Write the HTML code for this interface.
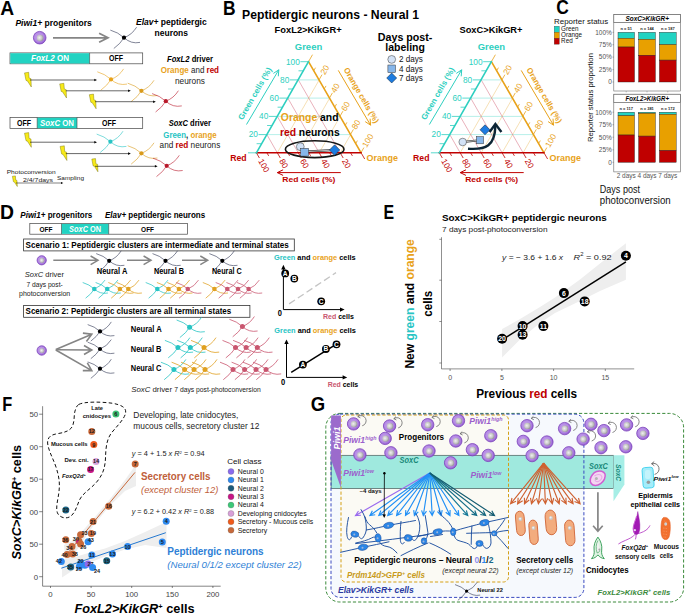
<!DOCTYPE html><html><head><meta charset="utf-8"><title>Figure</title><style>html,body{margin:0;padding:0;background:#fff}svg{display:block}text{font-family:"Liberation Sans",sans-serif}</style></head><body>
<svg width="685" height="614" viewBox="0 0 685 614">
<defs><radialGradient id="pg" cx="45%" cy="45%" r="60%"><stop offset="0" stop-color="#caa8ee"/><stop offset="0.6" stop-color="#b48ae4"/><stop offset="1" stop-color="#8a50c8"/></radialGradient><radialGradient id="ng" cx="40%" cy="45%" r="65%"><stop offset="0" stop-color="#f0f0f0"/><stop offset="0.6" stop-color="#c4c4c4"/><stop offset="1" stop-color="#8c8c8c"/></radialGradient></defs>
<rect width="685" height="614" fill="#fff"/>
<g id="panelA">
<text x="0.2" y="14.5" font-size="20.4" fill="#000" font-weight="bold" textLength="13.9" lengthAdjust="spacingAndGlyphs" >A</text>
<text x="15.4" y="25.6" font-size="8.6" fill="#000" font-weight="bold" textLength="76.4" lengthAdjust="spacingAndGlyphs" ><tspan font-style="italic">Piwi1+</tspan> progenitors</text>
<text x="136.0" y="24.8" font-size="8.6" fill="#000" font-weight="bold" textLength="70.7" lengthAdjust="spacingAndGlyphs" ><tspan font-style="italic">Elav+</tspan> peptidergic</text>
<text x="154.6" y="36.0" font-size="8.6" fill="#000" font-weight="bold" textLength="33.4" lengthAdjust="spacingAndGlyphs" >neurons</text>
<circle cx="39.7" cy="37.7" r="6.3" fill="url(#pg)" stroke="#7d45bd" stroke-width="0.8"/>
<circle cx="40.1" cy="38.0" r="3.3" fill="url(#ng)"/>
<path d="M53.0 37.8L108.0 37.8M99.1 42.3L108.0 37.8L99.1 33.3" fill="none" stroke="#858585" stroke-width="1.75" stroke-linejoin="miter"/>
<path d="M124.0 37.7Q118.0 32.2 110.3 30.1M124.0 37.7Q132.0 34.7 136.6 27.2M124.0 37.7Q120.5 43.7 113.8 48.5M124.0 37.7Q131.0 44.2 140.0 42.4" fill="none" stroke="#2b3350" stroke-width="0.6"/>
<circle cx="124.0" cy="37.7" r="2.1" fill="#000"/>
<rect x="10" y="52.9" width="132.7" height="10.9" fill="#fff" stroke="#444" stroke-width="0.7"/>
<rect x="10.3" y="53.2" width="79.3" height="10.3" fill="#22d3c2"/>
<line x1="89.6" y1="52.9" x2="89.6" y2="63.8" stroke="#444" stroke-width="0.6"/>
<text x="50.0" y="61.2" font-size="8.6" fill="#fff" font-weight="bold" text-anchor="middle" textLength="38.0" lengthAdjust="spacingAndGlyphs" ><tspan font-style="italic">FoxL2</tspan> ON</text>
<text x="116.0" y="61.2" font-size="8.6" fill="#000" font-weight="bold" text-anchor="middle" textLength="14.0" lengthAdjust="spacingAndGlyphs" >OFF</text>
<polygon points="24.5,72.9 28.7,72.3 29.1,78.0 31.0,78.7 31.3,87.0 27.4,80.9 26.0,80.4" fill="#f7ea1a" stroke="#6b6500" stroke-width="0.4"/>
<line x1="30.0" y1="80.0" x2="95.2" y2="80.0" stroke="#000" stroke-width="0.6"/>
<polygon points="97.0,80.0 94.3,81.3 94.3,78.7" fill="#000"/>
<path d="M111.0 79.4Q105.0 73.9 97.3 71.8M111.0 79.4Q119.0 76.4 123.6 68.9M111.0 79.4Q107.5 85.4 100.8 90.2M111.0 79.4Q118.0 85.9 127.0 84.1" fill="none" stroke="#e8a21a" stroke-width="0.6"/>
<circle cx="111.0" cy="79.4" r="2.1" fill="#e8a21a"/>
<polygon points="59.7,83.9 63.9,83.3 64.3,89.0 66.2,89.7 66.5,98.0 62.6,91.9 61.2,91.4" fill="#f7ea1a" stroke="#6b6500" stroke-width="0.4"/>
<line x1="65.8" y1="90.8" x2="129.0" y2="90.8" stroke="#000" stroke-width="0.6"/>
<polygon points="130.8,90.8 128.1,92.1 128.1,89.5" fill="#000"/>
<path d="M141.4 90.8Q135.4 85.3 127.7 83.2M141.4 90.8Q149.4 87.8 154.0 80.3M141.4 90.8Q137.9 96.8 131.2 101.6M141.4 90.8Q148.4 97.3 157.4 95.5" fill="none" stroke="#d99a1a" stroke-width="0.6"/>
<circle cx="141.4" cy="90.8" r="2.1" fill="#d99a1a"/>
<polygon points="89.3,94.7 93.5,94.1 93.9,99.8 95.8,100.5 96.1,108.8 92.2,102.7 90.8,102.2" fill="#f7ea1a" stroke="#6b6500" stroke-width="0.4"/>
<line x1="95.0" y1="101.7" x2="154.0" y2="101.7" stroke="#000" stroke-width="0.6"/>
<polygon points="155.8,101.7 153.1,103.0 153.1,100.4" fill="#000"/>
<path d="M165.8 101.2Q159.8 95.7 152.1 93.6M165.8 101.2Q173.8 98.2 178.4 90.7M165.8 101.2Q162.3 107.2 155.6 112.0M165.8 101.2Q172.8 107.7 181.8 105.9" fill="none" stroke="#b8182a" stroke-width="0.6"/>
<circle cx="165.8" cy="101.2" r="2.1" fill="#b8182a"/>
<text x="167.0" y="61.5" font-size="8.6" fill="#000" font-weight="bold" textLength="46.0" lengthAdjust="spacingAndGlyphs" ><tspan font-style="italic">FoxL2</tspan> driver</text>
<text x="160.8" y="73.2" font-size="8.6" fill="#000" font-weight="bold" textLength="58.2" lengthAdjust="spacingAndGlyphs" ><tspan fill="#e8a21a">Orange</tspan><tspan font-weight="normal" fill="#222"> and </tspan><tspan fill="#c00000">red</tspan></text>
<text x="175.0" y="83.6" font-size="8.6" fill="#222" textLength="30.0" lengthAdjust="spacingAndGlyphs" >neurons</text>
<rect x="10" y="117.4" width="132.7" height="11.1" fill="#fff" stroke="#444" stroke-width="0.7"/>
<rect x="37.2" y="117.7" width="39.8" height="10.5" fill="#22d3c2"/>
<path d="M37.2 117.4V128.5M77 117.4V128.5" stroke="#444" stroke-width="0.6"/>
<text x="24.0" y="125.9" font-size="8.6" fill="#000" font-weight="bold" text-anchor="middle" textLength="14.0" lengthAdjust="spacingAndGlyphs" >OFF</text>
<text x="57.0" y="125.9" font-size="8.6" fill="#fff" font-weight="bold" text-anchor="middle" textLength="34.0" lengthAdjust="spacingAndGlyphs" ><tspan font-style="italic">SoxC</tspan> ON</text>
<text x="109.0" y="125.9" font-size="8.6" fill="#000" font-weight="bold" text-anchor="middle" textLength="14.0" lengthAdjust="spacingAndGlyphs" >OFF</text>
<polygon points="24.5,133.2 28.7,132.6 29.1,138.3 31.0,139.0 31.3,147.3 27.4,141.2 26.0,140.7" fill="#f7ea1a" stroke="#6b6500" stroke-width="0.4"/>
<line x1="30.0" y1="142.2" x2="95.2" y2="142.2" stroke="#000" stroke-width="0.6"/>
<polygon points="97.0,142.2 94.3,143.5 94.3,140.9" fill="#000"/>
<path d="M110.4 141.7Q104.4 136.2 96.7 134.1M110.4 141.7Q118.4 138.7 123.0 131.2M110.4 141.7Q106.9 147.7 100.2 152.5M110.4 141.7Q117.4 148.2 126.4 146.4" fill="none" stroke="#27c4c4" stroke-width="0.6"/>
<circle cx="110.4" cy="141.7" r="2.1" fill="#27c4c4"/>
<polygon points="60.1,146.4 64.3,145.8 64.7,151.5 66.6,152.2 66.9,160.5 63.0,154.4 61.6,153.9" fill="#f7ea1a" stroke="#6b6500" stroke-width="0.4"/>
<line x1="65.8" y1="153.6" x2="129.0" y2="153.6" stroke="#000" stroke-width="0.6"/>
<polygon points="130.8,153.6 128.1,154.9 128.1,152.3" fill="#000"/>
<path d="M141.4 153.3Q135.4 147.8 127.7 145.7M141.4 153.3Q149.4 150.3 154.0 142.8M141.4 153.3Q137.9 159.3 131.2 164.1M141.4 153.3Q148.4 159.8 157.4 158.0" fill="none" stroke="#d99a1a" stroke-width="0.6"/>
<circle cx="141.4" cy="153.3" r="2.1" fill="#d99a1a"/>
<polygon points="91.8,159.1 95.5,158.6 95.9,163.7 97.6,164.3 97.9,171.8 94.4,166.3 93.1,165.9" fill="#f7ea1a" stroke="#6b6500" stroke-width="0.4"/>
<line x1="95.0" y1="166.3" x2="155.8" y2="166.3" stroke="#000" stroke-width="0.6"/>
<polygon points="157.6,166.3 154.9,167.6 154.9,165.0" fill="#000"/>
<path d="M166.7 165.8Q160.7 160.3 153.0 158.2M166.7 165.8Q174.7 162.8 179.3 155.3M166.7 165.8Q163.2 171.8 156.5 176.6M166.7 165.8Q173.7 172.3 182.7 170.5" fill="none" stroke="#b8182a" stroke-width="0.6"/>
<circle cx="166.7" cy="165.8" r="2.1" fill="#b8182a"/>
<text x="168.7" y="126.3" font-size="8.6" fill="#000" font-weight="bold" textLength="42.3" lengthAdjust="spacingAndGlyphs" ><tspan font-style="italic">SoxC</tspan> driver</text>
<text x="163.3" y="137.7" font-size="8.6" fill="#000" font-weight="bold" textLength="53.3" lengthAdjust="spacingAndGlyphs" ><tspan fill="#27c4c4">Green</tspan><tspan fill="#222">, </tspan><tspan fill="#e8a21a">orange</tspan></text>
<text x="159.6" y="148.4" font-size="8.6" fill="#222" textLength="60.7" lengthAdjust="spacingAndGlyphs" >and <tspan fill="#c00000" font-weight="bold">red</tspan> neurons</text>
<text x="6.7" y="174.0" font-size="6.2" fill="#222" textLength="49.0" lengthAdjust="spacingAndGlyphs" >Photoconversion</text>
<text x="23.0" y="181.9" font-size="6.2" fill="#222" textLength="30.0" lengthAdjust="spacingAndGlyphs" >2/4/7days</text>
<text x="57.0" y="180.0" font-size="6.2" fill="#222" textLength="27.0" lengthAdjust="spacingAndGlyphs" >Sampling</text>
<polygon points="12.4,176.3 15.4,175.9 15.7,180.0 17.0,180.5 17.3,186.5 14.4,182.1 13.4,181.7" fill="#f7ea1a" stroke="#6b6500" stroke-width="0.4"/>
<line x1="16.0" y1="183.0" x2="61.8" y2="183.0" stroke="#000" stroke-width="0.5"/>
<polygon points="63.3,183.0 61.0,184.1 61.0,181.9" fill="#000"/>
</g>
<g id="panelB">
<text x="222.9" y="14.8" font-size="20.2" fill="#000" font-weight="bold" textLength="12.6" lengthAdjust="spacingAndGlyphs" >B</text>
<text x="242.0" y="18.6" font-size="12.2" fill="#000" font-weight="bold" textLength="177.0" lengthAdjust="spacingAndGlyphs" >Peptidergic neurons - Neural 1</text>
<text x="308.1" y="32.8" font-size="8.4" fill="#000" font-weight="bold" text-anchor="middle" textLength="67.0" lengthAdjust="spacingAndGlyphs" >FoxL2&gt;KikGR+</text>
<text x="308.5" y="49.6" font-size="8.6" fill="#2ecfc0" font-weight="bold" text-anchor="middle" textLength="27.4" lengthAdjust="spacingAndGlyphs" >Green</text>
<line x1="266.9" y1="134.6" x2="350.6" y2="134.6" stroke="#a5ebe3" stroke-width="0.8"/>
<line x1="277.3" y1="116.4" x2="340.2" y2="116.4" stroke="#a5ebe3" stroke-width="0.8"/>
<line x1="287.8" y1="98.1" x2="329.7" y2="98.1" stroke="#a5ebe3" stroke-width="0.8"/>
<line x1="298.3" y1="79.9" x2="319.2" y2="79.9" stroke="#a5ebe3" stroke-width="0.8"/>
<line x1="277.3" y1="152.8" x2="266.9" y2="134.6" stroke="#d77083" stroke-width="0.55"/>
<line x1="277.3" y1="152.8" x2="319.2" y2="79.9" stroke="#efc777" stroke-width="0.55"/>
<line x1="298.3" y1="152.8" x2="277.3" y2="116.4" stroke="#d77083" stroke-width="0.55"/>
<line x1="298.3" y1="152.8" x2="329.7" y2="98.1" stroke="#efc777" stroke-width="0.55"/>
<line x1="319.2" y1="152.8" x2="287.8" y2="98.1" stroke="#d77083" stroke-width="0.55"/>
<line x1="319.2" y1="152.8" x2="340.2" y2="116.4" stroke="#efc777" stroke-width="0.55"/>
<line x1="340.2" y1="152.8" x2="298.3" y2="79.9" stroke="#d77083" stroke-width="0.55"/>
<line x1="340.2" y1="152.8" x2="350.6" y2="134.6" stroke="#efc777" stroke-width="0.55"/>
<line x1="261.6" y1="143.7" x2="256.6" y2="143.7" stroke="#2ecfc0" stroke-width="0.8"/>
<line x1="313.7" y1="70.8" x2="315.5" y2="67.7" stroke="#e8a21a" stroke-width="0.8"/>
<line x1="350.6" y1="152.8" x2="352.4" y2="155.9" stroke="#c00000" stroke-width="0.8"/>
<line x1="266.9" y1="134.6" x2="258.5" y2="134.6" stroke="#2ecfc0" stroke-width="0.8"/>
<text x="257.9" y="137.4" font-size="8.3" fill="#2ecfc0" text-anchor="end" >20</text>
<line x1="319.0" y1="79.9" x2="322.0" y2="74.7" stroke="#e8a21a" stroke-width="0.8"/>
<text x="324.9" y="75.3" font-size="8.3" fill="#e8a21a" transform="rotate(-60 324.9 75.3)" >20</text>
<line x1="340.2" y1="152.8" x2="343.2" y2="158.0" stroke="#c00000" stroke-width="0.8"/>
<text x="341.7" y="161.1" font-size="8.3" fill="#c00000" transform="rotate(60 341.7 161.1)" >20</text>
<line x1="272.1" y1="125.5" x2="267.1" y2="125.5" stroke="#2ecfc0" stroke-width="0.8"/>
<line x1="324.2" y1="89.0" x2="326.0" y2="85.9" stroke="#e8a21a" stroke-width="0.8"/>
<line x1="329.7" y1="152.8" x2="331.5" y2="155.9" stroke="#c00000" stroke-width="0.8"/>
<line x1="277.3" y1="116.4" x2="268.9" y2="116.4" stroke="#2ecfc0" stroke-width="0.8"/>
<text x="268.3" y="119.2" font-size="8.3" fill="#2ecfc0" text-anchor="end" >40</text>
<line x1="329.4" y1="98.1" x2="332.4" y2="92.9" stroke="#e8a21a" stroke-width="0.8"/>
<text x="335.4" y="93.5" font-size="8.3" fill="#e8a21a" transform="rotate(-60 335.4 93.5)" >40</text>
<line x1="319.2" y1="152.8" x2="322.2" y2="158.0" stroke="#c00000" stroke-width="0.8"/>
<text x="320.8" y="161.1" font-size="8.3" fill="#c00000" transform="rotate(60 320.8 161.1)" >40</text>
<line x1="282.6" y1="107.2" x2="277.6" y2="107.2" stroke="#2ecfc0" stroke-width="0.8"/>
<line x1="334.7" y1="107.2" x2="336.5" y2="104.1" stroke="#e8a21a" stroke-width="0.8"/>
<line x1="308.8" y1="152.8" x2="310.6" y2="155.9" stroke="#c00000" stroke-width="0.8"/>
<line x1="287.8" y1="98.1" x2="279.4" y2="98.1" stroke="#2ecfc0" stroke-width="0.8"/>
<text x="278.8" y="100.9" font-size="8.3" fill="#2ecfc0" text-anchor="end" >60</text>
<line x1="339.9" y1="116.4" x2="342.9" y2="111.2" stroke="#e8a21a" stroke-width="0.8"/>
<text x="345.8" y="111.7" font-size="8.3" fill="#e8a21a" transform="rotate(-60 345.8 111.7)" >60</text>
<line x1="298.3" y1="152.8" x2="301.3" y2="158.0" stroke="#c00000" stroke-width="0.8"/>
<text x="299.8" y="161.1" font-size="8.3" fill="#c00000" transform="rotate(60 299.8 161.1)" >60</text>
<line x1="293.0" y1="89.0" x2="288.0" y2="89.0" stroke="#2ecfc0" stroke-width="0.8"/>
<line x1="345.1" y1="125.5" x2="346.9" y2="122.4" stroke="#e8a21a" stroke-width="0.8"/>
<line x1="287.8" y1="152.8" x2="289.6" y2="155.9" stroke="#c00000" stroke-width="0.8"/>
<line x1="298.3" y1="79.9" x2="289.9" y2="79.9" stroke="#2ecfc0" stroke-width="0.8"/>
<text x="289.3" y="82.7" font-size="8.3" fill="#2ecfc0" text-anchor="end" >80</text>
<line x1="350.4" y1="134.6" x2="353.4" y2="129.4" stroke="#e8a21a" stroke-width="0.8"/>
<text x="356.3" y="129.9" font-size="8.3" fill="#e8a21a" transform="rotate(-60 356.3 129.9)" >80</text>
<line x1="277.3" y1="152.8" x2="280.3" y2="158.0" stroke="#c00000" stroke-width="0.8"/>
<text x="278.9" y="161.1" font-size="8.3" fill="#c00000" transform="rotate(60 278.9 161.1)" >80</text>
<line x1="303.5" y1="70.8" x2="298.5" y2="70.8" stroke="#2ecfc0" stroke-width="0.8"/>
<line x1="355.6" y1="143.7" x2="357.4" y2="140.6" stroke="#e8a21a" stroke-width="0.8"/>
<line x1="266.9" y1="152.8" x2="268.7" y2="155.9" stroke="#c00000" stroke-width="0.8"/>
<line x1="308.8" y1="61.7" x2="300.4" y2="61.7" stroke="#2ecfc0" stroke-width="0.8"/>
<text x="299.8" y="64.5" font-size="8.3" fill="#2ecfc0" text-anchor="end" >100</text>
<line x1="360.9" y1="152.8" x2="363.9" y2="147.6" stroke="#e8a21a" stroke-width="0.8"/>
<text x="366.8" y="148.1" font-size="8.3" fill="#e8a21a" transform="rotate(-60 366.8 148.1)" >100</text>
<line x1="256.4" y1="152.8" x2="259.4" y2="158.0" stroke="#c00000" stroke-width="0.8"/>
<text x="258.0" y="161.1" font-size="8.3" fill="#c00000" transform="rotate(60 258.0 161.1)" >100</text>
<line x1="308.5" y1="61.7" x2="312.5" y2="54.7" stroke="#e8a21a" stroke-width="0.8"/>
<line x1="248.0" y1="152.8" x2="256.4" y2="152.8" stroke="#2ecfc0" stroke-width="0.8"/>
<line x1="361.1" y1="152.8" x2="364.7" y2="159.0" stroke="#c00000" stroke-width="0.8"/>
<line x1="308.5" y1="61.7" x2="361.1" y2="152.8" stroke="#e8a21a" stroke-width="1.6" stroke-linecap="round"/>
<line x1="256.4" y1="152.8" x2="361.1" y2="152.8" stroke="#c00000" stroke-width="1.6" stroke-linecap="round"/>
<line x1="256.4" y1="152.8" x2="308.5" y2="61.7" stroke="#2ecfc0" stroke-width="1.6" stroke-linecap="round"/>
<text x="230.2" y="160.5" font-size="8.4" fill="#c00000" font-weight="bold" textLength="16.4" lengthAdjust="spacingAndGlyphs" >Red</text>
<text x="366.6" y="160.5" font-size="8.4" fill="#e8a21a" font-weight="bold" textLength="31.4" lengthAdjust="spacingAndGlyphs" >Orange</text>
<path d="M246.5 124.5L278.8 69.8M278.3 76.3L278.8 69.8L273.4 73.4" fill="none" stroke="#2ecfc0" stroke-width="1" stroke-linejoin="miter"/>
<text x="242.5" y="120.5" font-size="8" fill="#2ecfc0" font-weight="bold" textLength="59.0" lengthAdjust="spacingAndGlyphs" transform="rotate(-60 242.5 120.5)" >Green cells (%)</text>
<path d="M338.3 70.4L370.6 125.2M365.2 121.6L370.6 125.2L370.1 118.7" fill="none" stroke="#e8a21a" stroke-width="1" stroke-linejoin="miter"/>
<text x="343.4" y="69.6" font-size="8" fill="#e8a21a" font-weight="bold" textLength="62.5" lengthAdjust="spacingAndGlyphs" transform="rotate(60 343.4 69.6)" >Orange cells (%)</text>
<path d="M340.8 172.6L277.3 172.6M283.1 169.8L277.3 172.6L283.1 175.4" fill="none" stroke="#c00000" stroke-width="1" stroke-linejoin="miter"/>
<text x="282.3" y="182.0" font-size="8" fill="#c00000" font-weight="bold" textLength="53.0" lengthAdjust="spacingAndGlyphs" >Red cells (%)</text>
<text x="491.0" y="32.8" font-size="8.4" fill="#000" font-weight="bold" text-anchor="middle" textLength="63.0" lengthAdjust="spacingAndGlyphs" >SoxC&gt;KikGR+</text>
<text x="491.4" y="49.6" font-size="8.6" fill="#2ecfc0" font-weight="bold" text-anchor="middle" textLength="27.4" lengthAdjust="spacingAndGlyphs" >Green</text>
<line x1="449.8" y1="134.6" x2="533.5" y2="134.6" stroke="#a5ebe3" stroke-width="0.8"/>
<line x1="460.2" y1="116.4" x2="523.1" y2="116.4" stroke="#a5ebe3" stroke-width="0.8"/>
<line x1="470.7" y1="98.1" x2="512.6" y2="98.1" stroke="#a5ebe3" stroke-width="0.8"/>
<line x1="481.2" y1="79.9" x2="502.1" y2="79.9" stroke="#a5ebe3" stroke-width="0.8"/>
<line x1="460.2" y1="152.8" x2="449.8" y2="134.6" stroke="#d77083" stroke-width="0.55"/>
<line x1="460.2" y1="152.8" x2="502.1" y2="79.9" stroke="#efc777" stroke-width="0.55"/>
<line x1="481.2" y1="152.8" x2="460.2" y2="116.4" stroke="#d77083" stroke-width="0.55"/>
<line x1="481.2" y1="152.8" x2="512.6" y2="98.1" stroke="#efc777" stroke-width="0.55"/>
<line x1="502.1" y1="152.8" x2="470.7" y2="98.1" stroke="#d77083" stroke-width="0.55"/>
<line x1="502.1" y1="152.8" x2="523.1" y2="116.4" stroke="#efc777" stroke-width="0.55"/>
<line x1="523.1" y1="152.8" x2="481.2" y2="79.9" stroke="#d77083" stroke-width="0.55"/>
<line x1="523.1" y1="152.8" x2="533.5" y2="134.6" stroke="#efc777" stroke-width="0.55"/>
<line x1="444.5" y1="143.7" x2="439.5" y2="143.7" stroke="#2ecfc0" stroke-width="0.8"/>
<line x1="496.6" y1="70.8" x2="498.4" y2="67.7" stroke="#e8a21a" stroke-width="0.8"/>
<line x1="533.5" y1="152.8" x2="535.3" y2="155.9" stroke="#c00000" stroke-width="0.8"/>
<line x1="449.8" y1="134.6" x2="441.4" y2="134.6" stroke="#2ecfc0" stroke-width="0.8"/>
<text x="440.8" y="137.4" font-size="8.3" fill="#2ecfc0" text-anchor="end" >20</text>
<line x1="501.9" y1="79.9" x2="504.9" y2="74.7" stroke="#e8a21a" stroke-width="0.8"/>
<text x="507.8" y="75.3" font-size="8.3" fill="#e8a21a" transform="rotate(-60 507.8 75.3)" >20</text>
<line x1="523.1" y1="152.8" x2="526.1" y2="158.0" stroke="#c00000" stroke-width="0.8"/>
<text x="524.6" y="161.1" font-size="8.3" fill="#c00000" transform="rotate(60 524.6 161.1)" >20</text>
<line x1="455.0" y1="125.5" x2="450.0" y2="125.5" stroke="#2ecfc0" stroke-width="0.8"/>
<line x1="507.1" y1="89.0" x2="508.9" y2="85.9" stroke="#e8a21a" stroke-width="0.8"/>
<line x1="512.6" y1="152.8" x2="514.4" y2="155.9" stroke="#c00000" stroke-width="0.8"/>
<line x1="460.2" y1="116.4" x2="451.8" y2="116.4" stroke="#2ecfc0" stroke-width="0.8"/>
<text x="451.2" y="119.2" font-size="8.3" fill="#2ecfc0" text-anchor="end" >40</text>
<line x1="512.3" y1="98.1" x2="515.3" y2="92.9" stroke="#e8a21a" stroke-width="0.8"/>
<text x="518.3" y="93.5" font-size="8.3" fill="#e8a21a" transform="rotate(-60 518.3 93.5)" >40</text>
<line x1="502.1" y1="152.8" x2="505.1" y2="158.0" stroke="#c00000" stroke-width="0.8"/>
<text x="503.7" y="161.1" font-size="8.3" fill="#c00000" transform="rotate(60 503.7 161.1)" >40</text>
<line x1="465.5" y1="107.2" x2="460.5" y2="107.2" stroke="#2ecfc0" stroke-width="0.8"/>
<line x1="517.6" y1="107.2" x2="519.4" y2="104.1" stroke="#e8a21a" stroke-width="0.8"/>
<line x1="491.6" y1="152.8" x2="493.4" y2="155.9" stroke="#c00000" stroke-width="0.8"/>
<line x1="470.7" y1="98.1" x2="462.3" y2="98.1" stroke="#2ecfc0" stroke-width="0.8"/>
<text x="461.7" y="100.9" font-size="8.3" fill="#2ecfc0" text-anchor="end" >60</text>
<line x1="522.8" y1="116.4" x2="525.8" y2="111.2" stroke="#e8a21a" stroke-width="0.8"/>
<text x="528.7" y="111.7" font-size="8.3" fill="#e8a21a" transform="rotate(-60 528.7 111.7)" >60</text>
<line x1="481.2" y1="152.8" x2="484.2" y2="158.0" stroke="#c00000" stroke-width="0.8"/>
<text x="482.7" y="161.1" font-size="8.3" fill="#c00000" transform="rotate(60 482.7 161.1)" >60</text>
<line x1="475.9" y1="89.0" x2="470.9" y2="89.0" stroke="#2ecfc0" stroke-width="0.8"/>
<line x1="528.0" y1="125.5" x2="529.8" y2="122.4" stroke="#e8a21a" stroke-width="0.8"/>
<line x1="470.7" y1="152.8" x2="472.5" y2="155.9" stroke="#c00000" stroke-width="0.8"/>
<line x1="481.2" y1="79.9" x2="472.8" y2="79.9" stroke="#2ecfc0" stroke-width="0.8"/>
<text x="472.2" y="82.7" font-size="8.3" fill="#2ecfc0" text-anchor="end" >80</text>
<line x1="533.3" y1="134.6" x2="536.3" y2="129.4" stroke="#e8a21a" stroke-width="0.8"/>
<text x="539.2" y="129.9" font-size="8.3" fill="#e8a21a" transform="rotate(-60 539.2 129.9)" >80</text>
<line x1="460.2" y1="152.8" x2="463.2" y2="158.0" stroke="#c00000" stroke-width="0.8"/>
<text x="461.8" y="161.1" font-size="8.3" fill="#c00000" transform="rotate(60 461.8 161.1)" >80</text>
<line x1="486.4" y1="70.8" x2="481.4" y2="70.8" stroke="#2ecfc0" stroke-width="0.8"/>
<line x1="538.5" y1="143.7" x2="540.3" y2="140.6" stroke="#e8a21a" stroke-width="0.8"/>
<line x1="449.8" y1="152.8" x2="451.6" y2="155.9" stroke="#c00000" stroke-width="0.8"/>
<line x1="491.6" y1="61.7" x2="483.2" y2="61.7" stroke="#2ecfc0" stroke-width="0.8"/>
<text x="482.6" y="64.5" font-size="8.3" fill="#2ecfc0" text-anchor="end" >100</text>
<line x1="543.8" y1="152.8" x2="546.8" y2="147.6" stroke="#e8a21a" stroke-width="0.8"/>
<text x="549.7" y="148.1" font-size="8.3" fill="#e8a21a" transform="rotate(-60 549.7 148.1)" >100</text>
<line x1="439.3" y1="152.8" x2="442.3" y2="158.0" stroke="#c00000" stroke-width="0.8"/>
<text x="440.9" y="161.1" font-size="8.3" fill="#c00000" transform="rotate(60 440.9 161.1)" >100</text>
<line x1="491.4" y1="61.7" x2="495.4" y2="54.7" stroke="#e8a21a" stroke-width="0.8"/>
<line x1="430.9" y1="152.8" x2="439.3" y2="152.8" stroke="#2ecfc0" stroke-width="0.8"/>
<line x1="544.0" y1="152.8" x2="547.6" y2="159.0" stroke="#c00000" stroke-width="0.8"/>
<line x1="491.4" y1="61.7" x2="544.0" y2="152.8" stroke="#e8a21a" stroke-width="1.6" stroke-linecap="round"/>
<line x1="439.3" y1="152.8" x2="544.0" y2="152.8" stroke="#c00000" stroke-width="1.6" stroke-linecap="round"/>
<line x1="439.3" y1="152.8" x2="491.4" y2="61.7" stroke="#2ecfc0" stroke-width="1.6" stroke-linecap="round"/>
<text x="413.1" y="160.5" font-size="8.4" fill="#c00000" font-weight="bold" textLength="16.4" lengthAdjust="spacingAndGlyphs" >Red</text>
<text x="549.5" y="160.5" font-size="8.4" fill="#e8a21a" font-weight="bold" textLength="31.4" lengthAdjust="spacingAndGlyphs" >Orange</text>
<path d="M429.4 124.5L461.7 69.8M461.2 76.3L461.7 69.8L456.3 73.4" fill="none" stroke="#2ecfc0" stroke-width="1" stroke-linejoin="miter"/>
<text x="425.4" y="120.5" font-size="8" fill="#2ecfc0" font-weight="bold" textLength="59.0" lengthAdjust="spacingAndGlyphs" transform="rotate(-60 425.4 120.5)" >Green cells (%)</text>
<path d="M521.2 70.4L553.5 125.2M548.1 121.6L553.5 125.2L553.0 118.7" fill="none" stroke="#e8a21a" stroke-width="1" stroke-linejoin="miter"/>
<text x="526.3" y="69.6" font-size="8" fill="#e8a21a" font-weight="bold" textLength="62.5" lengthAdjust="spacingAndGlyphs" transform="rotate(60 526.3 69.6)" >Orange cells (%)</text>
<path d="M523.7 172.6L460.2 172.6M466.0 169.8L460.2 172.6L466.0 175.4" fill="none" stroke="#c00000" stroke-width="1" stroke-linejoin="miter"/>
<text x="465.2" y="182.0" font-size="8" fill="#c00000" font-weight="bold" textLength="53.0" lengthAdjust="spacingAndGlyphs" >Red cells (%)</text>
<text x="280.8" y="121.4" font-size="10.4" fill="#000" font-weight="bold" textLength="57.8" lengthAdjust="spacingAndGlyphs" ><tspan fill="#e8a21a">Orange</tspan> and</text>
<text x="279.9" y="136.4" font-size="10.4" fill="#000" font-weight="bold" textLength="59.8" lengthAdjust="spacingAndGlyphs" ><tspan fill="#c00000">red</tspan> neurons</text>
<ellipse cx="314.7" cy="149.2" rx="29.3" ry="8.4" fill="none" stroke="#151515" stroke-width="1.6"/>
<line x1="304.9" y1="151.6" x2="334.7" y2="150" stroke="#222" stroke-width="2.2"/><line x1="304.9" y1="151.6" x2="334.7" y2="150" stroke="#bbb" stroke-width="1.1"/>
<circle cx="300.3" cy="146.7" r="3.9" fill="#d3e2f6" stroke="#333" stroke-width="0.5"/>
<rect x="300.7" y="148.3" width="7.8" height="7.8" fill="#86b6ea" stroke="#333" stroke-width="0.5"/>
<polygon points="334.6,144.8 339.8,150 334.6,155.2 329.4,150" fill="#1c7be0" stroke="#123" stroke-width="0.5"/>
<line x1="462.7" y1="142" x2="480" y2="140.2" stroke="#333" stroke-width="2"/><line x1="462.7" y1="142" x2="480" y2="140.2" stroke="#bbb" stroke-width="1"/>
<circle cx="462.7" cy="142" r="3.8" fill="#d3e2f6" stroke="#333" stroke-width="0.5"/>
<rect x="476.4" y="136.6" width="7.2" height="7.2" fill="#86b6ea" stroke="#333" stroke-width="0.5"/>
<polygon points="485,124.8 490,129.8 485,134.8 480,129.8" fill="#1c7be0" stroke="#123" stroke-width="0.5"/>
<path d="M468 148.7C486 150 495 146 495.4 125.5" fill="none" stroke="#0d2535" stroke-width="2.4"/>
<path d="M489.6 132L495.4 124L501.4 132" fill="none" stroke="#0d2535" stroke-width="2.4"/>
<text x="405.1" y="40.7" font-size="10" fill="#000" font-weight="bold" text-anchor="middle" textLength="54.6" lengthAdjust="spacingAndGlyphs" >Days post-</text>
<text x="405.1" y="51.2" font-size="10" fill="#000" font-weight="bold" text-anchor="middle" textLength="39.7" lengthAdjust="spacingAndGlyphs" >labeling</text>
<circle cx="391.7" cy="59.4" r="3.9" fill="#d3e2f6" stroke="#333" stroke-width="0.5"/>
<rect x="387.9" y="65" width="7.6" height="7.6" fill="#86b6ea" stroke="#333" stroke-width="0.5"/>
<polygon points="391.7,73 396.7,78 391.7,83 386.7,78" fill="#1c7be0" stroke="#123" stroke-width="0.5"/>
<text x="399.0" y="62.2" font-size="8.2" fill="#111" textLength="23.9" lengthAdjust="spacingAndGlyphs" >2 days</text>
<text x="399.0" y="71.5" font-size="8.2" fill="#111" textLength="23.9" lengthAdjust="spacingAndGlyphs" >4 days</text>
<text x="399.0" y="80.8" font-size="8.2" fill="#111" textLength="23.9" lengthAdjust="spacingAndGlyphs" >7 days</text>
</g>
<g id="panelC">
<text x="556.2" y="14.2" font-size="20.2" fill="#000" font-weight="bold" textLength="12.6" lengthAdjust="spacingAndGlyphs" >C</text>
<text x="554.1" y="23.6" font-size="7.6" fill="#111" textLength="54.0" lengthAdjust="spacingAndGlyphs" >Reporter status</text>
<rect x="554.2" y="26.2" width="5.1" height="6" fill="#22d3c2" stroke="#333" stroke-width="0.3"/>
<text x="561.1" y="31.3" font-size="6.3" fill="#111" >Green</text>
<rect x="554.2" y="32.2" width="5.1" height="6" fill="#e8a000" stroke="#333" stroke-width="0.3"/>
<text x="561.1" y="37.2" font-size="6.3" fill="#111" >Orange</text>
<rect x="554.2" y="38.2" width="5.1" height="6" fill="#c00000" stroke="#333" stroke-width="0.3"/>
<text x="561.1" y="43.2" font-size="6.3" fill="#111" >Red</text>
<text x="593.4" y="97.6" font-size="8" fill="#111" text-anchor="middle" textLength="89.0" lengthAdjust="spacingAndGlyphs" transform="rotate(-90 593.4 97.6)" >Reporter status proportion</text>
<rect x="613.8" y="14.3" width="66.6" height="8.2" fill="#fff" stroke="#333" stroke-width="0.6"/>
<text x="647.2" y="20.9" font-size="6.4" fill="#000" font-weight="bold" font-style="italic" text-anchor="middle" textLength="43.5" lengthAdjust="spacingAndGlyphs" >SoxC&gt;KikGR+</text>
<rect x="613.8" y="22.5" width="66.6" height="68.5" fill="#fff" stroke="#666" stroke-width="0.6"/>
<text x="611.8" y="34.6" font-size="6.5" fill="#555" text-anchor="end" >100%</text>
<line x1="612.4" y1="32.3" x2="614" y2="32.3" stroke="#666" stroke-width="0.4"/>
<text x="611.8" y="47.0" font-size="6.5" fill="#555" text-anchor="end" >75%</text>
<line x1="612.4" y1="44.7" x2="614" y2="44.7" stroke="#666" stroke-width="0.4"/>
<text x="611.8" y="59.4" font-size="6.5" fill="#555" text-anchor="end" >50%</text>
<line x1="612.4" y1="57.1" x2="614" y2="57.1" stroke="#666" stroke-width="0.4"/>
<text x="611.8" y="71.9" font-size="6.5" fill="#555" text-anchor="end" >25%</text>
<line x1="612.4" y1="69.6" x2="614" y2="69.6" stroke="#666" stroke-width="0.4"/>
<text x="611.8" y="84.3" font-size="6.5" fill="#555" text-anchor="end" >0</text>
<line x1="612.4" y1="82.0" x2="614" y2="82.0" stroke="#666" stroke-width="0.4"/>
<rect x="618" y="32.3" width="16.5" height="5.9" fill="#22d3c2" stroke="#222" stroke-width="0.4"/>
<rect x="618" y="38.2" width="16.5" height="8.8" fill="#e8a000" stroke="#222" stroke-width="0.4"/>
<rect x="618" y="47.0" width="16.5" height="35.0" fill="#c00000" stroke="#222" stroke-width="0.4"/>
<text x="626.2" y="30.2" font-size="4" fill="#222" font-weight="bold" text-anchor="middle" >n = 51</text>
<line x1="626.2" y1="91.0" x2="626.2" y2="92.4" stroke="#666" stroke-width="0.4"/>
<rect x="638.6" y="32.3" width="16.8" height="6.9" fill="#22d3c2" stroke="#222" stroke-width="0.4"/>
<rect x="638.6" y="39.2" width="16.8" height="16.0" fill="#e8a000" stroke="#222" stroke-width="0.4"/>
<rect x="638.6" y="55.2" width="16.8" height="26.8" fill="#c00000" stroke="#222" stroke-width="0.4"/>
<text x="647.0" y="30.2" font-size="4" fill="#222" font-weight="bold" text-anchor="middle" >n = 144</text>
<line x1="647.0" y1="91.0" x2="647.0" y2="92.4" stroke="#666" stroke-width="0.4"/>
<rect x="659.4" y="32.3" width="16.8" height="12.3" fill="#22d3c2" stroke="#222" stroke-width="0.4"/>
<rect x="659.4" y="44.6" width="16.8" height="15.5" fill="#e8a000" stroke="#222" stroke-width="0.4"/>
<rect x="659.4" y="60.1" width="16.8" height="21.9" fill="#c00000" stroke="#222" stroke-width="0.4"/>
<text x="667.8" y="30.2" font-size="4" fill="#222" font-weight="bold" text-anchor="middle" >n = 187</text>
<line x1="667.8" y1="91.0" x2="667.8" y2="92.4" stroke="#666" stroke-width="0.4"/>
<rect x="613.8" y="94.2" width="66.6" height="8.2" fill="#fff" stroke="#333" stroke-width="0.6"/>
<text x="647.2" y="100.8" font-size="6.4" fill="#000" font-weight="bold" font-style="italic" text-anchor="middle" textLength="43.5" lengthAdjust="spacingAndGlyphs" >FoxL2&gt;KikGR+</text>
<rect x="613.8" y="102.4" width="66.6" height="69.5" fill="#fff" stroke="#666" stroke-width="0.6"/>
<text x="611.8" y="114.5" font-size="6.5" fill="#555" text-anchor="end" >100%</text>
<line x1="612.4" y1="112.2" x2="614" y2="112.2" stroke="#666" stroke-width="0.4"/>
<text x="611.8" y="127.0" font-size="6.5" fill="#555" text-anchor="end" >75%</text>
<line x1="612.4" y1="124.7" x2="614" y2="124.7" stroke="#666" stroke-width="0.4"/>
<text x="611.8" y="139.6" font-size="6.5" fill="#555" text-anchor="end" >50%</text>
<line x1="612.4" y1="137.2" x2="614" y2="137.2" stroke="#666" stroke-width="0.4"/>
<text x="611.8" y="152.1" font-size="6.5" fill="#555" text-anchor="end" >25%</text>
<line x1="612.4" y1="149.8" x2="614" y2="149.8" stroke="#666" stroke-width="0.4"/>
<text x="611.8" y="164.6" font-size="6.5" fill="#555" text-anchor="end" >0</text>
<line x1="612.4" y1="162.3" x2="614" y2="162.3" stroke="#666" stroke-width="0.4"/>
<rect x="618" y="112.2" width="16.5" height="3.5" fill="#22d3c2" stroke="#222" stroke-width="0.4"/>
<rect x="618" y="115.7" width="16.5" height="19.3" fill="#e8a000" stroke="#222" stroke-width="0.4"/>
<rect x="618" y="135.0" width="16.5" height="27.3" fill="#c00000" stroke="#222" stroke-width="0.4"/>
<text x="626.2" y="110.1" font-size="4" fill="#222" font-weight="bold" text-anchor="middle" >n = 117</text>
<line x1="626.2" y1="171.9" x2="626.2" y2="173.3" stroke="#666" stroke-width="0.4"/>
<rect x="638.6" y="112.2" width="16.8" height="1.0" fill="#22d3c2" stroke="#222" stroke-width="0.4"/>
<rect x="638.6" y="113.2" width="16.8" height="22.9" fill="#e8a000" stroke="#222" stroke-width="0.4"/>
<rect x="638.6" y="136.1" width="16.8" height="26.2" fill="#c00000" stroke="#222" stroke-width="0.4"/>
<text x="647.0" y="110.1" font-size="4" fill="#222" font-weight="bold" text-anchor="middle" >n = 381</text>
<line x1="647.0" y1="171.9" x2="647.0" y2="173.3" stroke="#666" stroke-width="0.4"/>
<rect x="659.4" y="112.2" width="16.8" height="2.0" fill="#22d3c2" stroke="#222" stroke-width="0.4"/>
<rect x="659.4" y="114.2" width="16.8" height="36.2" fill="#e8a000" stroke="#222" stroke-width="0.4"/>
<rect x="659.4" y="150.4" width="16.8" height="11.9" fill="#c00000" stroke="#222" stroke-width="0.4"/>
<text x="667.8" y="110.1" font-size="4" fill="#222" font-weight="bold" text-anchor="middle" >n = 172</text>
<line x1="667.8" y1="171.9" x2="667.8" y2="173.3" stroke="#666" stroke-width="0.4"/>
<text x="626.2" y="178.2" font-size="6.5" fill="#555" text-anchor="middle" textLength="19.0" lengthAdjust="spacingAndGlyphs" >2 days</text>
<text x="647.0" y="178.2" font-size="6.5" fill="#555" text-anchor="middle" textLength="19.0" lengthAdjust="spacingAndGlyphs" >4 days</text>
<text x="667.8" y="178.2" font-size="6.5" fill="#555" text-anchor="middle" textLength="19.0" lengthAdjust="spacingAndGlyphs" >7 days</text>
<text x="599.8" y="192.7" font-size="10.3" fill="#111" textLength="40.2" lengthAdjust="spacingAndGlyphs" >Days post</text>
<text x="599.8" y="204.1" font-size="10.3" fill="#111" textLength="70.9" lengthAdjust="spacingAndGlyphs" >photoconversion</text>
</g>
<g id="panelD">
<text x="0.0" y="218.9" font-size="20.2" fill="#000" font-weight="bold" textLength="14.0" lengthAdjust="spacingAndGlyphs" >D</text>
<text x="20.3" y="217.9" font-size="8.2" fill="#000" font-weight="bold" textLength="72.0" lengthAdjust="spacingAndGlyphs" ><tspan font-style="italic">Piwi1+</tspan> progenitors</text>
<text x="105.0" y="217.9" font-size="8.2" fill="#000" font-weight="bold" textLength="100.2" lengthAdjust="spacingAndGlyphs" ><tspan font-style="italic">Elav+</tspan> peptidergic neurons</text>
<rect x="29.8" y="223.6" width="157.6" height="10.6" fill="#fff" stroke="#444" stroke-width="0.7"/>
<rect x="61.5" y="223.9" width="47.2" height="10" fill="#22d3c2"/>
<path d="M61.5 223.6V234.2M108.7 223.6V234.2" stroke="#444" stroke-width="0.6"/>
<text x="46.0" y="231.6" font-size="8" fill="#000" font-weight="bold" text-anchor="middle" textLength="13.0" lengthAdjust="spacingAndGlyphs" >OFF</text>
<text x="85.1" y="231.6" font-size="8.2" fill="#fff" font-weight="bold" text-anchor="middle" textLength="32.0" lengthAdjust="spacingAndGlyphs" ><tspan font-style="italic">SoxC</tspan> ON</text>
<text x="147.6" y="231.6" font-size="8" fill="#000" font-weight="bold" text-anchor="middle" textLength="13.0" lengthAdjust="spacingAndGlyphs" >OFF</text>
<rect x="23.6" y="239" width="270.7" height="11.9" fill="#fff" stroke="#333" stroke-width="0.8"/>
<text x="25.6" y="247.7" font-size="8.7" fill="#000" font-weight="bold" textLength="263.2" lengthAdjust="spacingAndGlyphs" >Scenario 1: Peptidergic clusters are intermediate and terminal states</text>
<circle cx="41.7" cy="260.3" r="4.6" fill="url(#pg)" stroke="#7d45bd" stroke-width="0.8"/>
<circle cx="42.0" cy="260.5" r="2.4" fill="url(#ng)"/>
<path d="M53.3 260.3L98.0 260.3M90.6 264.6L98.0 260.3L90.6 256.0" fill="none" stroke="#858585" stroke-width="1.5" stroke-linejoin="miter"/>
<path d="M109.2 260.8Q103.5 255.6 96.2 253.6M109.2 260.8Q116.8 257.9 121.2 250.8M109.2 260.8Q105.9 266.5 99.5 271.1M109.2 260.8Q115.9 267.0 124.4 265.3" fill="none" stroke="#2b3350" stroke-width="0.6"/>
<circle cx="109.2" cy="260.8" r="2.1" fill="#000"/>
<path d="M127.0 260.3L151.0 260.3M143.6 264.6L151.0 260.3L143.6 256.0" fill="none" stroke="#858585" stroke-width="1.5" stroke-linejoin="miter"/>
<path d="M165.5 260.8Q159.8 255.6 152.5 253.6M165.5 260.8Q173.1 257.9 177.5 250.8M165.5 260.8Q162.2 266.5 155.8 271.1M165.5 260.8Q172.2 267.0 180.7 265.3" fill="none" stroke="#2b3350" stroke-width="0.6"/>
<circle cx="165.5" cy="260.8" r="2.1" fill="#000"/>
<path d="M182.0 260.3L207.7 260.3M200.3 264.6L207.7 260.3L200.3 256.0" fill="none" stroke="#858585" stroke-width="1.5" stroke-linejoin="miter"/>
<path d="M222.3 260.8Q216.6 255.6 209.3 253.6M222.3 260.8Q229.9 257.9 234.3 250.8M222.3 260.8Q219.0 266.5 212.6 271.1M222.3 260.8Q229.0 267.0 237.5 265.3" fill="none" stroke="#2b3350" stroke-width="0.6"/>
<circle cx="222.3" cy="260.8" r="2.1" fill="#000"/>
<text x="96.8" y="274.4" font-size="8.2" fill="#000" font-weight="bold" textLength="30.5" lengthAdjust="spacingAndGlyphs" >Neural A</text>
<text x="154.0" y="274.4" font-size="8.2" fill="#000" font-weight="bold" textLength="30.0" lengthAdjust="spacingAndGlyphs" >Neural B</text>
<text x="211.9" y="274.4" font-size="8.2" fill="#000" font-weight="bold" textLength="29.8" lengthAdjust="spacingAndGlyphs" >Neural C</text>
<text x="44.4" y="277.0" font-size="7.2" fill="#222" text-anchor="middle" textLength="39.2" lengthAdjust="spacingAndGlyphs" ><tspan font-style="italic">SoxC</tspan> driver</text>
<text x="44.6" y="286.8" font-size="6.8" fill="#222" text-anchor="middle" textLength="36.3" lengthAdjust="spacingAndGlyphs" >7 days post-</text>
<text x="44.6" y="296.3" font-size="6.8" fill="#222" text-anchor="middle" textLength="51.2" lengthAdjust="spacingAndGlyphs" >photoconversion</text>
<path d="M94.3 289.0Q89.2 284.3 82.7 282.5M94.3 289.0Q101.1 286.4 105.0 280.1M94.3 289.0Q91.3 294.1 85.6 298.2M94.3 289.0Q100.2 294.5 107.9 293.0" fill="none" stroke="#27c4c4" stroke-width="0.75"/>
<circle cx="94.3" cy="289.0" r="2.3" fill="#27c4c4"/>
<path d="M107.2 289.0Q102.1 284.3 95.6 282.5M107.2 289.0Q114.0 286.4 117.9 280.1M107.2 289.0Q104.2 294.1 98.5 298.2M107.2 289.0Q113.2 294.5 120.8 293.0" fill="none" stroke="#27c4c4" stroke-width="0.75"/>
<circle cx="107.2" cy="289.0" r="2.3" fill="#27c4c4"/>
<path d="M119.9 289.0Q114.8 284.3 108.3 282.5M119.9 289.0Q126.7 286.4 130.6 280.1M119.9 289.0Q116.9 294.1 111.2 298.2M119.9 289.0Q125.9 294.5 133.5 293.0" fill="none" stroke="#e0a020" stroke-width="0.75"/>
<circle cx="119.9" cy="289.0" r="2.3" fill="#e0a020"/>
<path d="M128.3 289.0Q123.2 284.3 116.7 282.5M128.3 289.0Q135.1 286.4 139.0 280.1M128.3 289.0Q125.3 294.1 119.6 298.2M128.3 289.0Q134.2 294.5 141.9 293.0" fill="none" stroke="#e0a020" stroke-width="0.75"/>
<circle cx="128.3" cy="289.0" r="2.3" fill="#e0a020"/>
<path d="M157.3 289.0Q152.2 284.3 145.7 282.5M157.3 289.0Q164.1 286.4 168.0 280.1M157.3 289.0Q154.3 294.1 148.6 298.2M157.3 289.0Q163.2 294.5 170.9 293.0" fill="none" stroke="#27c4c4" stroke-width="0.75"/>
<circle cx="157.3" cy="289.0" r="2.3" fill="#27c4c4"/>
<path d="M168.5 289.0Q163.4 284.3 156.9 282.5M168.5 289.0Q175.3 286.4 179.2 280.1M168.5 289.0Q165.5 294.1 159.8 298.2M168.5 289.0Q174.4 294.5 182.1 293.0" fill="none" stroke="#e0a020" stroke-width="0.75"/>
<circle cx="168.5" cy="289.0" r="2.3" fill="#e0a020"/>
<path d="M178.9 289.0Q173.8 284.3 167.3 282.5M178.9 289.0Q185.7 286.4 189.6 280.1M178.9 289.0Q175.9 294.1 170.2 298.2M178.9 289.0Q184.8 294.5 192.5 293.0" fill="none" stroke="#e0a020" stroke-width="0.75"/>
<circle cx="178.9" cy="289.0" r="2.3" fill="#e0a020"/>
<path d="M187.8 289.0Q182.7 284.3 176.2 282.5M187.8 289.0Q194.6 286.4 198.5 280.1M187.8 289.0Q184.8 294.1 179.1 298.2M187.8 289.0Q193.8 294.5 201.4 293.0" fill="none" stroke="#c9566f" stroke-width="0.75"/>
<circle cx="187.8" cy="289.0" r="2.3" fill="#c9566f"/>
<path d="M214.4 289.0Q209.3 284.3 202.8 282.5M214.4 289.0Q221.2 286.4 225.1 280.1M214.4 289.0Q211.4 294.1 205.7 298.2M214.4 289.0Q220.3 294.5 228.0 293.0" fill="none" stroke="#e0a020" stroke-width="0.75"/>
<circle cx="214.4" cy="289.0" r="2.3" fill="#e0a020"/>
<path d="M227.3 289.0Q222.2 284.3 215.7 282.5M227.3 289.0Q234.1 286.4 238.0 280.1M227.3 289.0Q224.3 294.1 218.6 298.2M227.3 289.0Q233.2 294.5 240.9 293.0" fill="none" stroke="#c9566f" stroke-width="0.75"/>
<circle cx="227.3" cy="289.0" r="2.3" fill="#c9566f"/>
<path d="M238.0 289.0Q232.9 284.3 226.4 282.5M238.0 289.0Q244.8 286.4 248.7 280.1M238.0 289.0Q235.0 294.1 229.3 298.2M238.0 289.0Q243.9 294.5 251.6 293.0" fill="none" stroke="#c9566f" stroke-width="0.75"/>
<circle cx="238.0" cy="289.0" r="2.3" fill="#c9566f"/>
<path d="M248.6 289.0Q243.5 284.3 237.0 282.5M248.6 289.0Q255.4 286.4 259.3 280.1M248.6 289.0Q245.6 294.1 239.9 298.2M248.6 289.0Q254.5 294.5 262.2 293.0" fill="none" stroke="#c9566f" stroke-width="0.75"/>
<circle cx="248.6" cy="289.0" r="2.3" fill="#c9566f"/>
<text x="274.0" y="260.0" font-size="8" fill="#000" font-weight="bold" textLength="81.6" lengthAdjust="spacingAndGlyphs" ><tspan fill="#27c4c4">Green</tspan> and <tspan fill="#e8a21a">orange</tspan> cells</text>
<path d="M283.4 268V309.6H341" fill="none" stroke="#000" stroke-width="1"/>
<polygon points="283.4,264.8 281.2,269.4 285.6,269.4" fill="#000"/><polygon points="344.6,309.6 340,307.4 340,311.8" fill="#000"/>
<line x1="289.1" y1="303.9" x2="336" y2="272.6" stroke="#c4c4c4" stroke-width="1.3" stroke-dasharray="7 3.5"/>
<circle cx="285.2" cy="273.4" r="3.9" fill="#000"/>
<text x="285.2" y="275.8" font-size="6.6" fill="#fff" font-weight="bold" text-anchor="middle" >A</text>
<circle cx="294.3" cy="278.6" r="3.9" fill="#000"/>
<text x="294.3" y="281.0" font-size="6.6" fill="#fff" font-weight="bold" text-anchor="middle" >B</text>
<circle cx="321.2" cy="301.3" r="3.9" fill="#000"/>
<text x="321.2" y="303.7" font-size="6.6" fill="#fff" font-weight="bold" text-anchor="middle" >C</text>
<text x="277.8" y="316.3" font-size="8.4" fill="#000" font-weight="bold" textLength="4.2" lengthAdjust="spacingAndGlyphs" >0</text>
<text x="323.0" y="319.0" font-size="8" fill="#000" font-weight="bold" textLength="30.8" lengthAdjust="spacingAndGlyphs" ><tspan fill="#c9566f">Red</tspan> cells</text>
<rect x="23.6" y="305.4" width="226.3" height="11.9" fill="#fff" stroke="#333" stroke-width="0.8"/>
<text x="25.6" y="314.2" font-size="8.7" fill="#000" font-weight="bold" textLength="205.6" lengthAdjust="spacingAndGlyphs" >Scenario 2: Peptidergic clusters are all terminal states</text>
<circle cx="41.7" cy="350.5" r="4.7" fill="url(#pg)" stroke="#7d45bd" stroke-width="0.8"/>
<circle cx="42.0" cy="350.7" r="2.4" fill="url(#ng)"/>
<path d="M55.8 349.6L91.8 334.2M86.4 341.4L91.8 334.2L82.9 333.1" fill="none" stroke="#858585" stroke-width="1.6" stroke-linejoin="miter"/>
<path d="M55.8 349.8L91.8 350.0M84.0 354.5L91.8 350.0L84.0 345.5" fill="none" stroke="#858585" stroke-width="1.6" stroke-linejoin="miter"/>
<path d="M55.8 350.0L91.8 370.6M82.8 370.6L91.8 370.6L87.3 362.8" fill="none" stroke="#858585" stroke-width="1.6" stroke-linejoin="miter"/>
<path d="M100.0 331.4Q94.6 326.4 87.7 324.6M100.0 331.4Q107.2 328.7 111.3 321.9M100.0 331.4Q96.8 336.8 90.8 341.1M100.0 331.4Q106.3 337.2 114.4 335.6" fill="none" stroke="#2b3350" stroke-width="0.6"/>
<circle cx="100.0" cy="331.4" r="2.1" fill="#000"/>
<path d="M100.0 349.0Q94.6 344.1 87.7 342.2M100.0 349.0Q107.2 346.3 111.3 339.6M100.0 349.0Q96.8 354.4 90.8 358.7M100.0 349.0Q106.3 354.9 114.4 353.2" fill="none" stroke="#2b3350" stroke-width="0.6"/>
<circle cx="100.0" cy="349.0" r="2.1" fill="#000"/>
<path d="M100.0 368.7Q94.6 363.8 87.7 361.9M100.0 368.7Q107.2 366.0 111.3 359.2M100.0 368.7Q96.8 374.1 90.8 378.4M100.0 368.7Q106.3 374.6 114.4 372.9" fill="none" stroke="#2b3350" stroke-width="0.6"/>
<circle cx="100.0" cy="368.7" r="2.1" fill="#000"/>
<text x="130.8" y="332.2" font-size="8.2" fill="#000" font-weight="bold" textLength="31.0" lengthAdjust="spacingAndGlyphs" >Neural A</text>
<text x="130.8" y="351.8" font-size="8.2" fill="#000" font-weight="bold" textLength="30.6" lengthAdjust="spacingAndGlyphs" >Neural B</text>
<text x="130.8" y="371.4" font-size="8.2" fill="#000" font-weight="bold" textLength="30.6" lengthAdjust="spacingAndGlyphs" >Neural C</text>
<path d="M189.6 327.2Q183.9 322.0 176.6 320.0M189.6 327.2Q197.2 324.3 201.6 317.2M189.6 327.2Q186.3 332.9 179.9 337.5M189.6 327.2Q196.2 333.4 204.8 331.7" fill="none" stroke="#27c4c4" stroke-width="0.8"/>
<circle cx="189.6" cy="327.2" r="2.5" fill="#27c4c4"/>
<path d="M242.4 326.5Q236.7 321.3 229.4 319.3M242.4 326.5Q250.0 323.6 254.4 316.5M242.4 326.5Q239.1 332.2 232.7 336.8M242.4 326.5Q249.1 332.7 257.6 331.0" fill="none" stroke="#c9566f" stroke-width="0.8"/>
<circle cx="242.4" cy="326.5" r="2.5" fill="#c9566f"/>
<path d="M177.9 347.6Q172.2 342.4 164.9 340.4M177.9 347.6Q185.5 344.8 189.9 337.6M177.9 347.6Q174.6 353.3 168.2 357.9M177.9 347.6Q184.6 353.8 193.1 352.1" fill="none" stroke="#27c4c4" stroke-width="0.8"/>
<circle cx="177.9" cy="347.6" r="2.5" fill="#27c4c4"/>
<path d="M190.3 347.6Q184.6 342.4 177.3 340.4M190.3 347.6Q197.9 344.8 202.3 337.6M190.3 347.6Q187.0 353.3 180.6 357.9M190.3 347.6Q197.0 353.8 205.5 352.1" fill="none" stroke="#27c4c4" stroke-width="0.8"/>
<circle cx="190.3" cy="347.6" r="2.5" fill="#27c4c4"/>
<path d="M204.0 347.6Q198.3 342.4 191.0 340.4M204.0 347.6Q211.6 344.8 216.0 337.6M204.0 347.6Q200.7 353.3 194.3 357.9M204.0 347.6Q210.7 353.8 219.2 352.1" fill="none" stroke="#e0a020" stroke-width="0.8"/>
<circle cx="204.0" cy="347.6" r="2.5" fill="#e0a020"/>
<path d="M235.5 347.6Q229.8 342.4 222.5 340.4M235.5 347.6Q243.1 344.8 247.5 337.6M235.5 347.6Q232.2 353.3 225.8 357.9M235.5 347.6Q242.2 353.8 250.7 352.1" fill="none" stroke="#c9566f" stroke-width="0.8"/>
<circle cx="235.5" cy="347.6" r="2.5" fill="#c9566f"/>
<path d="M246.1 347.6Q240.4 342.4 233.1 340.4M246.1 347.6Q253.7 344.8 258.1 337.6M246.1 347.6Q242.8 353.3 236.4 357.9M246.1 347.6Q252.8 353.8 261.3 352.1" fill="none" stroke="#c9566f" stroke-width="0.8"/>
<circle cx="246.1" cy="347.6" r="2.5" fill="#c9566f"/>
<path d="M257.3 347.6Q251.6 342.4 244.3 340.4M257.3 347.6Q264.9 344.8 269.3 337.6M257.3 347.6Q254.0 353.3 247.6 357.9M257.3 347.6Q263.9 353.8 272.5 352.1" fill="none" stroke="#c9566f" stroke-width="0.8"/>
<circle cx="257.3" cy="347.6" r="2.5" fill="#c9566f"/>
<path d="M173.9 369.4Q168.2 364.2 160.9 362.2M173.9 369.4Q181.5 366.5 185.9 359.4M173.9 369.4Q170.6 375.1 164.2 379.7M173.9 369.4Q180.6 375.6 189.1 373.9" fill="none" stroke="#27c4c4" stroke-width="0.8"/>
<circle cx="173.9" cy="369.4" r="2.5" fill="#27c4c4"/>
<path d="M184.6 369.4Q178.9 364.2 171.6 362.2M184.6 369.4Q192.2 366.5 196.6 359.4M184.6 369.4Q181.3 375.1 174.9 379.7M184.6 369.4Q191.2 375.6 199.8 373.9" fill="none" stroke="#e0a020" stroke-width="0.8"/>
<circle cx="184.6" cy="369.4" r="2.5" fill="#e0a020"/>
<path d="M194.0 369.4Q188.3 364.2 181.0 362.2M194.0 369.4Q201.6 366.5 206.0 359.4M194.0 369.4Q190.7 375.1 184.3 379.7M194.0 369.4Q200.7 375.6 209.2 373.9" fill="none" stroke="#e0a020" stroke-width="0.8"/>
<circle cx="194.0" cy="369.4" r="2.5" fill="#e0a020"/>
<path d="M205.0 369.4Q199.3 364.2 192.0 362.2M205.0 369.4Q212.6 366.5 217.0 359.4M205.0 369.4Q201.7 375.1 195.3 379.7M205.0 369.4Q211.7 375.6 220.2 373.9" fill="none" stroke="#e0a020" stroke-width="0.8"/>
<circle cx="205.0" cy="369.4" r="2.5" fill="#e0a020"/>
<path d="M233.0 369.4Q227.3 364.2 220.0 362.2M233.0 369.4Q240.6 366.5 245.0 359.4M233.0 369.4Q229.7 375.1 223.3 379.7M233.0 369.4Q239.7 375.6 248.2 373.9" fill="none" stroke="#c9566f" stroke-width="0.8"/>
<circle cx="233.0" cy="369.4" r="2.5" fill="#c9566f"/>
<path d="M244.6 369.4Q238.9 364.2 231.6 362.2M244.6 369.4Q252.2 366.5 256.6 359.4M244.6 369.4Q241.3 375.1 234.9 379.7M244.6 369.4Q251.2 375.6 259.8 373.9" fill="none" stroke="#c9566f" stroke-width="0.8"/>
<circle cx="244.6" cy="369.4" r="2.5" fill="#c9566f"/>
<path d="M256.0 369.4Q250.3 364.2 243.0 362.2M256.0 369.4Q263.6 366.5 268.0 359.4M256.0 369.4Q252.7 375.1 246.3 379.7M256.0 369.4Q262.6 375.6 271.2 373.9" fill="none" stroke="#c9566f" stroke-width="0.8"/>
<circle cx="256.0" cy="369.4" r="2.5" fill="#c9566f"/>
<path d="M266.0 369.4Q260.3 364.2 253.0 362.2M266.0 369.4Q273.6 366.5 278.0 359.4M266.0 369.4Q262.7 375.1 256.3 379.7M266.0 369.4Q272.6 375.6 281.2 373.9" fill="none" stroke="#c9566f" stroke-width="0.8"/>
<circle cx="266.0" cy="369.4" r="2.5" fill="#c9566f"/>
<text x="131.2" y="391.7" font-size="7.4" fill="#222" textLength="129.6" lengthAdjust="spacingAndGlyphs" ><tspan font-style="italic">SoxC</tspan> driver <tspan font-size="6.4">7 days post-photoconversion</tspan></text>
<text x="274.3" y="333.3" font-size="8" fill="#000" font-weight="bold" textLength="81.5" lengthAdjust="spacingAndGlyphs" ><tspan fill="#27c4c4">Green</tspan> and <tspan fill="#e8a21a">orange</tspan> cells</text>
<path d="M286.5 343V377.4H343" fill="none" stroke="#000" stroke-width="1"/>
<polygon points="286.5,339.4 284.3,344 288.7,344" fill="#000"/><polygon points="347.2,377.4 342.6,375.2 342.6,379.6" fill="#000"/>
<line x1="291.2" y1="372.4" x2="336" y2="344.3" stroke="#000" stroke-width="1.5"/>
<circle cx="302.9" cy="364.6" r="3.9" fill="#000"/>
<text x="302.9" y="367.0" font-size="6.6" fill="#fff" font-weight="bold" text-anchor="middle" >A</text>
<circle cx="325.9" cy="349" r="3.9" fill="#000"/>
<text x="325.9" y="351.4" font-size="6.6" fill="#fff" font-weight="bold" text-anchor="middle" >B</text>
<circle cx="336.5" cy="344.3" r="3.9" fill="#000"/>
<text x="336.5" y="346.7" font-size="6.6" fill="#fff" font-weight="bold" text-anchor="middle" >C</text>
<text x="280.9" y="385.4" font-size="8.4" fill="#000" font-weight="bold" textLength="4.2" lengthAdjust="spacingAndGlyphs" >0</text>
<text x="327.7" y="386.5" font-size="8" fill="#000" font-weight="bold" textLength="30.5" lengthAdjust="spacingAndGlyphs" ><tspan fill="#c9566f">Red</tspan> cells</text>
</g>
<g id="panelE">
<text x="383.6" y="218.9" font-size="20.2" fill="#000" font-weight="bold" textLength="10.6" lengthAdjust="spacingAndGlyphs" >E</text>
<text x="442.0" y="221.0" font-size="8.6" fill="#000" font-weight="bold" textLength="164.7" lengthAdjust="spacingAndGlyphs" >SoxC&gt;KikGR+ peptidergic neurons</text>
<text x="442.0" y="232.3" font-size="7.6" fill="#222" textLength="105.5" lengthAdjust="spacingAndGlyphs" >7 days post-photoconversion</text>
<polygon points="502.1,329.1 520,319 540,307 555,297.5 580,279.5 600,263.5 625.9,243.3 625.9,279.8 600,291 580,301 555,313 540,323 520,339.5 502.1,357.4" fill="#eeeeee"/>
<path d="M441.5 237.2V368.9H634.2" fill="none" stroke="#444" stroke-width="0.6"/>
<line x1="439.3" y1="239.3" x2="441.5" y2="239.3" stroke="#444" stroke-width="0.6"/>
<line x1="439.3" y1="280.2" x2="441.5" y2="280.2" stroke="#444" stroke-width="0.6"/>
<line x1="439.3" y1="321.5" x2="441.5" y2="321.5" stroke="#444" stroke-width="0.6"/>
<line x1="439.3" y1="363" x2="441.5" y2="363" stroke="#444" stroke-width="0.6"/>
<line x1="450.1" y1="368.9" x2="450.1" y2="371" stroke="#444" stroke-width="0.6"/>
<text x="450.1" y="379.8" font-size="7" fill="#555" text-anchor="middle" >0</text>
<line x1="501.9" y1="368.9" x2="501.9" y2="371" stroke="#444" stroke-width="0.6"/>
<text x="501.9" y="379.8" font-size="7" fill="#555" text-anchor="middle" >5</text>
<line x1="553.6" y1="368.9" x2="553.6" y2="371" stroke="#444" stroke-width="0.6"/>
<text x="553.6" y="379.8" font-size="7" fill="#555" text-anchor="middle" >10</text>
<line x1="605.3" y1="368.9" x2="605.3" y2="371" stroke="#444" stroke-width="0.6"/>
<text x="605.3" y="379.8" font-size="7" fill="#555" text-anchor="middle" >15</text>
<line x1="502.1" y1="339.9" x2="625.9" y2="261.8" stroke="#000" stroke-width="1.5"/>
<circle cx="625.9" cy="255.7" r="5" fill="#000"/>
<text x="625.9" y="258.2" font-size="6.9" fill="#fff" font-weight="bold" text-anchor="middle" >4</text>
<circle cx="563.9" cy="293.1" r="5" fill="#000"/>
<text x="563.9" y="295.6" font-size="6.9" fill="#fff" font-weight="bold" text-anchor="middle" >6</text>
<circle cx="584.7" cy="301.4" r="5" fill="#000"/>
<text x="584.7" y="303.9" font-size="6.9" fill="#fff" font-weight="bold" text-anchor="middle" >18</text>
<circle cx="522.6" cy="326.1" r="5" fill="#000"/>
<text x="522.6" y="328.6" font-size="6.9" fill="#fff" font-weight="bold" text-anchor="middle" >10</text>
<circle cx="543.4" cy="326.1" r="5" fill="#000"/>
<text x="543.4" y="328.6" font-size="6.9" fill="#fff" font-weight="bold" text-anchor="middle" >11</text>
<circle cx="522.6" cy="334.7" r="5" fill="#000"/>
<text x="522.6" y="337.2" font-size="6.9" fill="#fff" font-weight="bold" text-anchor="middle" >13</text>
<circle cx="502.1" cy="338.8" r="5" fill="#000"/>
<text x="502.1" y="341.3" font-size="6.9" fill="#fff" font-weight="bold" text-anchor="middle" >20</text>
<text x="502.1" y="259.6" font-size="8" fill="#222" textLength="61.0" lengthAdjust="spacingAndGlyphs" ><tspan font-style="italic">y</tspan> = − 3.6 + 1.6 <tspan font-style="italic">x</tspan></text>
<text x="573.6" y="259.6" font-size="8" fill="#222" textLength="38.0" lengthAdjust="spacingAndGlyphs" ><tspan font-style="italic">R</tspan><tspan font-size="5.2" dy="-3.4">2</tspan><tspan dy="3.4"> = 0.92</tspan></text>
<text x="414.5" y="368.6" font-size="12" fill="#000" font-weight="bold" textLength="129.4" lengthAdjust="spacingAndGlyphs" transform="rotate(-90 414.5 368.6)" >New <tspan fill="#27c4c4">green</tspan> and <tspan fill="#e8a21a">orange</tspan></text>
<text x="431.6" y="316.7" font-size="12" fill="#000" font-weight="bold" textLength="25.8" lengthAdjust="spacingAndGlyphs" transform="rotate(-90 431.6 316.7)" >cells</text>
<text x="476.2" y="397.6" font-size="12" fill="#000" font-weight="bold" textLength="100.8" lengthAdjust="spacingAndGlyphs" >Previous <tspan fill="#c00000">red</tspan> cells</text>
</g>
<g id="panelF">
<text x="2.2" y="410.9" font-size="20.2" fill="#000" font-weight="bold" textLength="10.0" lengthAdjust="spacingAndGlyphs" >F</text>
<polygon points="62,560 75,557 90,552.5 105,548.5 125,541 145,532 166.5,522 166.5,548 145,545 125,549.5 105,556.5 90,562.5 75,569 62,577.5" fill="#eeeeee"/>
<polygon points="64,545 72,541 82,531.5 95,517 110,499 125,480 136,464.5 136,486 125,491 110,505.5 95,523.5 85,538 75,553 66,566" fill="#eeeeee"/>
<path d="M42.6 406.2V586.2H220.7" fill="none" stroke="#333" stroke-width="0.6"/>
<line x1="39.2" y1="414.2" x2="42.6" y2="414.2" stroke="#333" stroke-width="0.6"/>
<text x="38.2" y="417.0" font-size="7.8" fill="#444" text-anchor="end" >50</text>
<line x1="39.2" y1="446.7" x2="42.6" y2="446.7" stroke="#333" stroke-width="0.6"/>
<text x="38.2" y="449.5" font-size="7.8" fill="#444" text-anchor="end" >00</text>
<line x1="39.2" y1="479.2" x2="42.6" y2="479.2" stroke="#333" stroke-width="0.6"/>
<text x="38.2" y="482.0" font-size="7.8" fill="#444" text-anchor="end" >50</text>
<line x1="39.2" y1="511.7" x2="42.6" y2="511.7" stroke="#333" stroke-width="0.6"/>
<text x="38.2" y="514.5" font-size="7.8" fill="#444" text-anchor="end" >00</text>
<line x1="39.2" y1="544.2" x2="42.6" y2="544.2" stroke="#333" stroke-width="0.6"/>
<text x="38.2" y="547.0" font-size="7.8" fill="#444" text-anchor="end" >50</text>
<line x1="39.2" y1="576.7" x2="42.6" y2="576.7" stroke="#333" stroke-width="0.6"/>
<text x="38.2" y="579.5" font-size="7.8" fill="#444" text-anchor="end" >0</text>
<line x1="50.5" y1="586.1" x2="50.5" y2="588" stroke="#333" stroke-width="0.6"/>
<text x="50.5" y="596.8" font-size="7.8" fill="#444" text-anchor="middle" >0</text>
<line x1="91.1" y1="586.1" x2="91.1" y2="588" stroke="#333" stroke-width="0.6"/>
<text x="91.1" y="596.8" font-size="7.8" fill="#444" text-anchor="middle" >50</text>
<line x1="131.7" y1="586.1" x2="131.7" y2="588" stroke="#333" stroke-width="0.6"/>
<text x="131.7" y="596.8" font-size="7.8" fill="#444" text-anchor="middle" >100</text>
<line x1="172.3" y1="586.1" x2="172.3" y2="588" stroke="#333" stroke-width="0.6"/>
<text x="172.3" y="596.8" font-size="7.8" fill="#444" text-anchor="middle" >150</text>
<line x1="212.9" y1="586.1" x2="212.9" y2="588" stroke="#333" stroke-width="0.6"/>
<text x="212.9" y="596.8" font-size="7.8" fill="#444" text-anchor="middle" >200</text>
<text x="21.5" y="559.6" font-size="12" fill="#000" font-weight="bold" textLength="114.6" lengthAdjust="spacingAndGlyphs" transform="rotate(-90 21.5 559.6)" ><tspan font-style="italic">SoxC&gt;KikGR</tspan><tspan font-size="7" dy="-4">+</tspan><tspan dy="4"> cells</tspan></text>
<text x="74.4" y="612.6" font-size="12" fill="#000" font-weight="bold" textLength="120.2" lengthAdjust="spacingAndGlyphs" ><tspan font-style="italic">FoxL2&gt;KikGR</tspan><tspan font-size="7" dy="-4">+</tspan><tspan dy="4"> cells</tspan></text>
<line x1="65" y1="556.5" x2="135" y2="472.4" stroke="#c8693a" stroke-width="1"/>
<line x1="61.3" y1="568.2" x2="165.8" y2="532.7" stroke="#2478d0" stroke-width="1"/>
<path d="M78.9 404.4C84 401.6 100 401.6 112 403.2C122 404.8 126.5 408 125.6 413C124.5 419 117 426 111 433.5C106 441 105.8 450 105.5 458C105 468 103 474 97.5 481C91 489 84 492 80 499C77 505 76 512 70.5 516.5C66 519 61 518 58 514C55 509 58 500 58.8 493C60 484 59.5 478 56 467C52.5 457 48.5 451 47.6 443C47.5 437 51 434.8 57 433.8C64 432.5 69 431.5 72 427C75 422 73.5 414 75.5 409.5C76.3 407 77.3 405.2 78.9 404.4Z" fill="none" stroke="#111" stroke-width="1" stroke-dasharray="3.6 2.4"/>
<circle cx="115.9" cy="414.1" r="3.5" fill="#3cbf74"/>
<text x="115.9" y="416.0" font-size="5.5" fill="#1a1a1a" font-weight="bold" text-anchor="middle" >6</text>
<circle cx="91.8" cy="431.5" r="3.5" fill="#c8693a"/>
<text x="91.8" y="433.4" font-size="5.5" fill="#1a1a1a" font-weight="bold" text-anchor="middle" >12</text>
<circle cx="93.8" cy="444.6" r="3.5" fill="#ee5a1c"/>
<text x="93.8" y="446.5" font-size="5.5" fill="#1a1a1a" font-weight="bold" text-anchor="middle" >9</text>
<circle cx="96" cy="461.5" r="3.5" fill="#d9a3dc"/>
<text x="96.0" y="463.4" font-size="5.5" fill="#1a1a1a" font-weight="bold" text-anchor="middle" >14</text>
<circle cx="90.6" cy="469.4" r="3.5" fill="#c71585"/>
<text x="90.6" y="471.3" font-size="5.5" fill="#1a1a1a" font-weight="bold" text-anchor="middle" >17</text>
<circle cx="135.2" cy="464.1" r="3.5" fill="#c8693a"/>
<text x="135.2" y="466.0" font-size="5.5" fill="#1a1a1a" font-weight="bold" text-anchor="middle" >7</text>
<circle cx="65.8" cy="509.9" r="3.5" fill="#1a6585"/>
<text x="65.8" y="511.8" font-size="5.5" fill="#1a1a1a" font-weight="bold" text-anchor="middle" >22</text>
<circle cx="108.7" cy="506.2" r="3.5" fill="#c8693a"/>
<text x="108.7" y="508.1" font-size="5.5" fill="#1a1a1a" font-weight="bold" text-anchor="middle" >16</text>
<circle cx="93.1" cy="521.6" r="3.5" fill="#c8693a"/>
<text x="93.1" y="523.5" font-size="5.5" fill="#1a1a1a" font-weight="bold" text-anchor="middle" >21</text>
<circle cx="80.6" cy="534.7" r="3.5" fill="#c8693a"/>
<text x="84.6" y="535.0" font-size="5.5" fill="#1a1a1a" font-weight="bold" text-anchor="middle" >23</text>
<circle cx="91.3" cy="533.5" r="3.5" fill="#c8693a"/>
<text x="92.9" y="535.4" font-size="5.5" fill="#1a1a1a" font-weight="bold" text-anchor="middle" >19</text>
<circle cx="65.8" cy="539.7" r="3.5" fill="#c8693a"/>
<text x="65.3" y="541.6" font-size="5.5" fill="#1a1a1a" font-weight="bold" text-anchor="middle" >36</text>
<circle cx="78.9" cy="540.9" r="3.5" fill="#c8693a"/>
<text x="75.9" y="541.4" font-size="5.5" fill="#1a1a1a" font-weight="bold" text-anchor="middle" >30</text>
<circle cx="77.8" cy="541.8" r="1.6" fill="#c71585"/>
<circle cx="88.1" cy="541.7" r="3.5" fill="#2e8af0"/>
<text x="90.7" y="541.6" font-size="5.5" fill="#1a1a1a" font-weight="bold" text-anchor="middle" >43</text>
<circle cx="80.6" cy="544.1" r="3.5" fill="#c8693a"/>
<text x="83.2" y="549.2" font-size="5.5" fill="#1a1a1a" font-weight="bold" text-anchor="middle" >26</text>
<circle cx="72" cy="546.6" r="3.5" fill="#c8693a"/>
<text x="69.4" y="549.5" font-size="5.5" fill="#1a1a1a" font-weight="bold" text-anchor="middle" >34</text>
<circle cx="67" cy="554.6" r="3.5" fill="#c8693a"/>
<text x="64.6" y="556.5" font-size="5.5" fill="#1a1a1a" font-weight="bold" text-anchor="middle" >40</text>
<circle cx="72.7" cy="554.1" r="3.5" fill="#c8693a"/>
<text x="74.7" y="555.8" font-size="5.5" fill="#1a1a1a" font-weight="bold" text-anchor="middle" >38</text>
<circle cx="91.8" cy="555" r="3.5" fill="#2e8af0"/>
<text x="91.8" y="556.9" font-size="5.5" fill="#1a1a1a" font-weight="bold" text-anchor="middle" >11</text>
<circle cx="112.4" cy="554.1" r="3.5" fill="#2e8af0"/>
<text x="112.4" y="556.0" font-size="5.5" fill="#1a1a1a" font-weight="bold" text-anchor="middle" >13</text>
<circle cx="106.7" cy="560.8" r="3.5" fill="#1a6585"/>
<text x="106.7" y="562.7" font-size="5.5" fill="#1a1a1a" font-weight="bold" text-anchor="middle" >15</text>
<circle cx="127.6" cy="546.6" r="3.5" fill="#2e8af0"/>
<text x="127.6" y="548.5" font-size="5.5" fill="#1a1a1a" font-weight="bold" text-anchor="middle" >10</text>
<circle cx="162.3" cy="542.1" r="3.5" fill="#2e8af0"/>
<text x="162.3" y="544.0" font-size="5.5" fill="#1a1a1a" font-weight="bold" text-anchor="middle" >5</text>
<circle cx="166.2" cy="521.3" r="3.5" fill="#2e8af0"/>
<text x="166.2" y="523.2" font-size="5.5" fill="#1a1a1a" font-weight="bold" text-anchor="middle" >4</text>
<circle cx="61.3" cy="561.5" r="3.5" fill="#2e8af0"/>
<text x="58.9" y="563.4" font-size="5.5" fill="#1a1a1a" font-weight="bold" text-anchor="middle" >42</text>
<circle cx="70.7" cy="567" r="3.5" fill="#1a6585"/>
<text x="70.1" y="568.9" font-size="5.5" fill="#1a1a1a" font-weight="bold" text-anchor="middle" >35</text>
<circle cx="79.4" cy="566.5" r="3.5" fill="#2e8af0"/>
<text x="78.9" y="571.4" font-size="5.5" fill="#1a1a1a" font-weight="bold" text-anchor="middle" >25</text>
<circle cx="80.6" cy="563.2" r="3.5" fill="#2e8af0"/>
<text x="80.6" y="563.1" font-size="5.5" fill="#1a1a1a" font-weight="bold" text-anchor="middle" >20</text>
<circle cx="84.9" cy="565.2" r="3.5" fill="#2e8af0"/>
<circle cx="88.1" cy="564" r="3.5" fill="#8a6aee"/>
<text x="90.5" y="565.5" font-size="5.5" fill="#1a1a1a" font-weight="bold" text-anchor="middle" >27</text>
<circle cx="92.6" cy="567.5" r="3.5" fill="#2e8af0"/>
<text x="97.0" y="572.6" font-size="5.5" fill="#1a1a1a" font-weight="bold" text-anchor="middle" >24</text>
<text x="97.2" y="410.0" font-size="6" fill="#111" font-weight="bold" text-anchor="middle" textLength="11.7" lengthAdjust="spacingAndGlyphs" >Late</text>
<text x="96.8" y="418.1" font-size="6" fill="#111" font-weight="bold" text-anchor="middle" textLength="28.3" lengthAdjust="spacingAndGlyphs" >cnidocyes</text>
<text x="50.9" y="445.9" font-size="6" fill="#111" font-weight="bold" textLength="36.7" lengthAdjust="spacingAndGlyphs" >Mucous cells</text>
<text x="64.5" y="462.0" font-size="6" fill="#111" font-weight="bold" textLength="24.1" lengthAdjust="spacingAndGlyphs" >Dev. cni.</text>
<text x="62.0" y="477.6" font-size="6" fill="#111" font-weight="bold" font-style="italic" textLength="23.6" lengthAdjust="spacingAndGlyphs" >FoxQ2d<tspan font-size="3.8" dy="-2">+</tspan></text>
<text x="133.3" y="418.0" font-size="8.7" fill="#222" textLength="105.0" lengthAdjust="spacingAndGlyphs" >Developing, late cnidocytes,</text>
<text x="133.3" y="429.2" font-size="8.7" fill="#222" textLength="126.0" lengthAdjust="spacingAndGlyphs" >mucous cells, secretory cluster 12</text>
<text x="131.7" y="456.0" font-size="6.5" fill="#222" textLength="73.0" lengthAdjust="spacingAndGlyphs" ><tspan font-style="italic">y</tspan> = 4 + 1.5 <tspan font-style="italic">x</tspan>  <tspan font-style="italic">R</tspan><tspan font-size="3.8" dy="-2.4">2</tspan><tspan dy="2.4"> = 0.94</tspan></text>
<text x="131.7" y="513.9" font-size="6.5" fill="#222" textLength="82.3" lengthAdjust="spacingAndGlyphs" ><tspan font-style="italic">y</tspan> = 6.2 + 0.42 <tspan font-style="italic">x</tspan>  <tspan font-style="italic">R</tspan><tspan font-size="3.8" dy="-2.4">2</tspan><tspan dy="2.4"> = 0.88</tspan></text>
<text x="141.0" y="480.0" font-size="10.6" fill="#c0603a" font-weight="bold" textLength="69.5" lengthAdjust="spacingAndGlyphs" >Secretory cells</text>
<text x="141.0" y="492.8" font-size="8.6" fill="#c0603a" font-style="italic" textLength="77.4" lengthAdjust="spacingAndGlyphs" >(except cluster 12)</text>
<text x="167.3" y="554.5" font-size="10.6" fill="#2e7fd6" font-weight="bold" textLength="96.3" lengthAdjust="spacingAndGlyphs" >Peptidergic neurons</text>
<text x="167.3" y="567.6" font-size="8.6" fill="#2e7fd6" font-style="italic" textLength="134.3" lengthAdjust="spacingAndGlyphs" >(Neural 0/1/2 except cluster 22)</text>
<text x="227.2" y="464.2" font-size="7" fill="#111" textLength="34.4" lengthAdjust="spacingAndGlyphs" >Cell class</text>
<circle cx="231" cy="471.5" r="3" fill="#8a6aee" stroke="#555" stroke-width="0.25"/>
<text x="237.7" y="473.8" font-size="6.9" fill="#111" >Neural 0</text>
<circle cx="231" cy="479.9" r="3" fill="#2e8af0" stroke="#555" stroke-width="0.25"/>
<text x="237.7" y="482.2" font-size="6.9" fill="#111" >Neural 1</text>
<circle cx="231" cy="488.3" r="3" fill="#1a5a7a" stroke="#555" stroke-width="0.25"/>
<text x="237.7" y="490.6" font-size="6.9" fill="#111" >Neural 2</text>
<circle cx="231" cy="496.7" r="3" fill="#c71585" stroke="#555" stroke-width="0.25"/>
<text x="237.7" y="499.0" font-size="6.9" fill="#111" >Neural 3</text>
<circle cx="231" cy="505.1" r="3" fill="#3cc878" stroke="#555" stroke-width="0.25"/>
<text x="237.7" y="507.4" font-size="6.9" fill="#111" >Neural 4</text>
<circle cx="231" cy="513.5" r="3" fill="#d8a0d8" stroke="#555" stroke-width="0.25"/>
<text x="237.7" y="515.8" font-size="6.9" fill="#111" >Developing cnidocytes</text>
<circle cx="231" cy="521.8" r="3" fill="#f05a1a" stroke="#555" stroke-width="0.25"/>
<text x="237.7" y="524.1" font-size="6.9" fill="#111" >Secretory - Mucous cells</text>
<circle cx="231" cy="530.2" r="3" fill="#c8693a" stroke="#555" stroke-width="0.25"/>
<text x="237.7" y="532.5" font-size="6.9" fill="#111" >Secretory</text>
</g>
<g id="panelG">
<text x="310.8" y="411.0" font-size="20.2" fill="#000" font-weight="bold" textLength="14.4" lengthAdjust="spacingAndGlyphs" >G</text>
<rect x="331" y="413.8" width="252.9" height="183.6" rx="9" fill="#f6f9fd"/>
<rect x="340.5" y="414.7" width="168" height="167.3" rx="5" fill="#fbfaf4"/>
<rect x="331.1" y="455.3" width="282.4" height="33.3" fill="#9fe9de" stroke="#4a5a5a" stroke-width="0.7"/>
<polygon points="613.5,455.3 624.4,455.3 624.4,484.6 613.5,501.2" fill="#a6eee6"/>
<rect x="325.8" y="413.4" width="357.8" height="188.6" rx="14" fill="none" stroke="#3a8a3a" stroke-width="1" stroke-dasharray="3.2 2"/>
<rect x="331" y="414.1" width="252.9" height="183.3" rx="9" fill="none" stroke="#3a4ac0" stroke-width="1" stroke-dasharray="3.2 2"/>
<rect x="341" y="415" width="167.5" height="167" rx="5" fill="none" stroke="#d4a017" stroke-width="1" stroke-dasharray="3.2 2"/>
<polygon points="331.1,415.5 340.9,415.5 340.9,487.7 331.1,460" fill="#9b6bcc"/>
<text x="339.7" y="449.4" font-size="9.2" fill="#fff" font-weight="bold" font-style="italic" textLength="23.0" lengthAdjust="spacingAndGlyphs" transform="rotate(-90 339.7 449.4)" >Piwi1</text>
<path d="M429.8 473.0L355.5 515.5M358.5 511.0L355.5 515.5L360.9 515.2" fill="none" stroke="#9a6aee" stroke-width="1.15" stroke-linejoin="miter"/>
<path d="M429.8 473.0L369.9 515.5M372.4 510.7L369.9 515.5L375.2 514.7" fill="none" stroke="#2190f6" stroke-width="1.15" stroke-linejoin="miter"/>
<path d="M429.8 473.0L378.8 515.5M380.9 510.5L378.8 515.5L384.1 514.3" fill="none" stroke="#2190f6" stroke-width="1.15" stroke-linejoin="miter"/>
<path d="M429.8 473.0L387.7 515.5M389.3 510.4L387.7 515.5L392.8 513.8" fill="none" stroke="#2190f6" stroke-width="1.15" stroke-linejoin="miter"/>
<path d="M429.8 473.0L396.6 515.5M397.6 510.2L396.6 515.5L401.5 513.2" fill="none" stroke="#2190f6" stroke-width="1.15" stroke-linejoin="miter"/>
<path d="M429.8 473.0L405.5 515.5M405.8 510.1L405.5 515.5L410.0 512.5" fill="none" stroke="#2190f6" stroke-width="1.15" stroke-linejoin="miter"/>
<path d="M429.8 473.0L414.4 515.5M413.7 510.1L414.4 515.5L418.3 511.8" fill="none" stroke="#2190f6" stroke-width="1.15" stroke-linejoin="miter"/>
<path d="M429.8 473.0L423.3 515.5M421.6 510.4L423.3 515.5L426.5 511.1" fill="none" stroke="#2190f6" stroke-width="1.15" stroke-linejoin="miter"/>
<path d="M429.8 473.0L432.2 515.5M429.5 510.8L432.2 515.5L434.4 510.6" fill="none" stroke="#2190f6" stroke-width="1.15" stroke-linejoin="miter"/>
<path d="M429.8 473.0L441.1 515.5M437.5 511.5L441.1 515.5L442.2 510.2" fill="none" stroke="#2190f6" stroke-width="1.15" stroke-linejoin="miter"/>
<path d="M429.8 473.0L450.0 515.5M445.7 512.2L450.0 515.5L450.1 510.1" fill="none" stroke="#2190f6" stroke-width="1.15" stroke-linejoin="miter"/>
<path d="M429.8 473.0L458.9 515.5M454.2 512.9L458.9 515.5L458.2 510.1" fill="none" stroke="#2190f6" stroke-width="1.15" stroke-linejoin="miter"/>
<path d="M429.8 473.0L467.8 515.5M462.8 513.5L467.8 515.5L466.4 510.3" fill="none" stroke="#187a98" stroke-width="1.15" stroke-linejoin="miter"/>
<path d="M429.8 473.0L476.7 515.5M471.5 514.1L476.7 515.5L474.8 510.5" fill="none" stroke="#166e88" stroke-width="1.15" stroke-linejoin="miter"/>
<path d="M429.8 473.0L485.6 515.5M480.3 514.5L485.6 515.5L483.3 510.6" fill="none" stroke="#14667e" stroke-width="1.15" stroke-linejoin="miter"/>
<path d="M429.8 473.0L494.5 515.5M489.1 514.9L494.5 515.5L491.8 510.8" fill="none" stroke="#125a70" stroke-width="1.15" stroke-linejoin="miter"/>
<path d="M543.6 463.1L510.6 503.8M512.0 498.0L510.6 503.8L516.0 501.3" fill="none" stroke="#cf6232" stroke-width="1.15" stroke-linejoin="miter"/>
<path d="M543.6 463.1L517.6 503.8M518.2 497.8L517.6 503.8L522.7 500.7" fill="none" stroke="#cf6232" stroke-width="1.15" stroke-linejoin="miter"/>
<path d="M543.6 463.1L524.5 503.8M524.4 497.8L524.5 503.8L529.2 500.0" fill="none" stroke="#cf6232" stroke-width="1.15" stroke-linejoin="miter"/>
<path d="M543.6 463.1L531.5 503.8M530.5 497.9L531.5 503.8L535.5 499.4" fill="none" stroke="#cf6232" stroke-width="1.15" stroke-linejoin="miter"/>
<path d="M543.6 463.1L538.4 503.8M536.5 498.1L538.4 503.8L541.7 498.8" fill="none" stroke="#cf6232" stroke-width="1.15" stroke-linejoin="miter"/>
<path d="M543.6 463.1L545.4 503.8M542.5 498.5L545.4 503.8L547.7 498.3" fill="none" stroke="#cf6232" stroke-width="1.15" stroke-linejoin="miter"/>
<path d="M543.6 463.1L552.3 503.8M548.6 499.1L552.3 503.8L553.7 498.0" fill="none" stroke="#cf6232" stroke-width="1.15" stroke-linejoin="miter"/>
<path d="M543.6 463.1L559.2 503.8M554.9 499.7L559.2 503.8L559.8 497.8" fill="none" stroke="#cf6232" stroke-width="1.15" stroke-linejoin="miter"/>
<path d="M543.6 463.1L566.2 503.8M561.3 500.4L566.2 503.8L565.9 497.8" fill="none" stroke="#cf6232" stroke-width="1.15" stroke-linejoin="miter"/>
<path d="M543.6 463.1L573.1 503.8M567.9 501.0L573.1 503.8L572.1 497.9" fill="none" stroke="#cf6232" stroke-width="1.15" stroke-linejoin="miter"/>
<path d="M543.6 463.1L580.1 503.8M574.5 501.5L580.1 503.8L578.5 498.0" fill="none" stroke="#cf6232" stroke-width="1.15" stroke-linejoin="miter"/>
<circle cx="384.4" cy="473.3" r="1.2" fill="#000"/>
<line x1="384.4" y1="473.3" x2="384.2" y2="515.6" stroke="#000" stroke-width="0.8"/>
<polygon points="384.2,518.0 382.5,514.4 385.9,514.4" fill="#000"/>
<text x="359.4" y="492.7" font-size="5" fill="#111" font-weight="bold" textLength="22.3" lengthAdjust="spacingAndGlyphs" >~4 days</text>
<path d="M357.8 416.6A5.2 5.2 0 1 1 362.2 425.8" fill="none" stroke="#6a6a6a" stroke-width="0.8"/>
<path d="M360.0 414.5L357.8 416.6L360.4 417.9" fill="none" stroke="#6a6a6a" stroke-width="0.8"/>
<circle cx="353.6" cy="423.9" r="6.2" fill="url(#pg)" stroke="#7d45bd" stroke-width="0.8"/>
<circle cx="354.0" cy="424.1" r="3.2" fill="url(#ng)"/>
<path d="M393.8 418.7A5.2 5.2 0 1 1 398.2 427.9" fill="none" stroke="#6a6a6a" stroke-width="0.8"/>
<path d="M396.0 416.6L393.8 418.7L396.4 420.0" fill="none" stroke="#6a6a6a" stroke-width="0.8"/>
<circle cx="389.6" cy="426.0" r="6.2" fill="url(#pg)" stroke="#7d45bd" stroke-width="0.8"/>
<circle cx="390.0" cy="426.2" r="3.2" fill="url(#ng)"/>
<path d="M431.9 417.4A5.2 5.2 0 1 1 436.3 426.6" fill="none" stroke="#6a6a6a" stroke-width="0.8"/>
<path d="M434.1 415.3L431.9 417.4L434.5 418.7" fill="none" stroke="#6a6a6a" stroke-width="0.8"/>
<circle cx="427.7" cy="424.7" r="6.2" fill="url(#pg)" stroke="#7d45bd" stroke-width="0.8"/>
<circle cx="428.1" cy="424.9" r="3.2" fill="url(#ng)"/>
<circle cx="458.5" cy="420.7" r="6.2" fill="url(#pg)" stroke="#7d45bd" stroke-width="0.8"/>
<circle cx="458.9" cy="420.9" r="3.2" fill="url(#ng)"/>
<circle cx="385.2" cy="438.4" r="6.2" fill="url(#pg)" stroke="#7d45bd" stroke-width="0.8"/>
<circle cx="385.6" cy="438.6" r="3.2" fill="url(#ng)"/>
<path d="M460.0 433.7A5.2 5.2 0 1 1 464.4 442.9" fill="none" stroke="#6a6a6a" stroke-width="0.8"/>
<path d="M462.2 431.6L460.0 433.7L462.6 435.0" fill="none" stroke="#6a6a6a" stroke-width="0.8"/>
<circle cx="455.8" cy="441.0" r="6.2" fill="url(#pg)" stroke="#7d45bd" stroke-width="0.8"/>
<circle cx="456.2" cy="441.2" r="3.2" fill="url(#ng)"/>
<circle cx="490.8" cy="435.7" r="6.2" fill="url(#pg)" stroke="#7d45bd" stroke-width="0.8"/>
<circle cx="491.2" cy="435.9" r="3.2" fill="url(#ng)"/>
<circle cx="359.9" cy="454.9" r="6.2" fill="url(#pg)" stroke="#7d45bd" stroke-width="0.8"/>
<circle cx="360.3" cy="455.1" r="3.2" fill="url(#ng)"/>
<circle cx="390.9" cy="452.8" r="6.2" fill="url(#pg)" stroke="#7d45bd" stroke-width="0.8"/>
<circle cx="391.3" cy="453.0" r="3.2" fill="url(#ng)"/>
<circle cx="429.0" cy="451.0" r="6.2" fill="url(#pg)" stroke="#7d45bd" stroke-width="0.8"/>
<circle cx="429.4" cy="451.2" r="3.2" fill="url(#ng)"/>
<circle cx="472.4" cy="449.7" r="6.2" fill="url(#pg)" stroke="#7d45bd" stroke-width="0.8"/>
<circle cx="472.8" cy="449.9" r="3.2" fill="url(#ng)"/>
<circle cx="488.2" cy="455.4" r="6.2" fill="url(#pg)" stroke="#7d45bd" stroke-width="0.8"/>
<circle cx="488.6" cy="455.6" r="3.2" fill="url(#ng)"/>
<circle cx="450.6" cy="462.8" r="6.2" fill="url(#pg)" stroke="#7d45bd" stroke-width="0.8"/>
<circle cx="451.0" cy="463.0" r="3.2" fill="url(#ng)"/>
<path d="M531.2 418.4A5.2 5.2 0 1 1 535.6 427.6" fill="none" stroke="#6a6a6a" stroke-width="0.8"/>
<path d="M533.4 416.3L531.2 418.4L533.8 419.7" fill="none" stroke="#6a6a6a" stroke-width="0.8"/>
<circle cx="527.0" cy="425.7" r="6.2" fill="url(#pg)" stroke="#7d45bd" stroke-width="0.8"/>
<circle cx="527.4" cy="425.9" r="3.2" fill="url(#ng)"/>
<path d="M568.8 421.3A5.2 5.2 0 1 1 573.2 430.5" fill="none" stroke="#6a6a6a" stroke-width="0.8"/>
<path d="M571.0 419.2L568.8 421.3L571.4 422.6" fill="none" stroke="#6a6a6a" stroke-width="0.8"/>
<circle cx="564.6" cy="428.6" r="6.2" fill="url(#pg)" stroke="#7d45bd" stroke-width="0.8"/>
<circle cx="565.0" cy="428.8" r="3.2" fill="url(#ng)"/>
<circle cx="591.0" cy="424.3" r="6.2" fill="url(#pg)" stroke="#7d45bd" stroke-width="0.8"/>
<circle cx="591.4" cy="424.5" r="3.2" fill="url(#ng)"/>
<path d="M608.1 423.3A5.2 5.2 0 1 1 612.5 432.5" fill="none" stroke="#6a6a6a" stroke-width="0.8"/>
<path d="M610.3 421.2L608.1 423.3L610.7 424.6" fill="none" stroke="#6a6a6a" stroke-width="0.8"/>
<circle cx="603.9" cy="430.6" r="6.2" fill="url(#pg)" stroke="#7d45bd" stroke-width="0.8"/>
<circle cx="604.3" cy="430.8" r="3.2" fill="url(#ng)"/>
<path d="M630.8 417.6A5.2 5.2 0 1 1 635.2 426.8" fill="none" stroke="#6a6a6a" stroke-width="0.8"/>
<path d="M633.0 415.5L630.8 417.6L633.4 418.9" fill="none" stroke="#6a6a6a" stroke-width="0.8"/>
<circle cx="626.6" cy="424.9" r="6.2" fill="url(#pg)" stroke="#7d45bd" stroke-width="0.8"/>
<circle cx="627.0" cy="425.1" r="3.2" fill="url(#ng)"/>
<circle cx="642.9" cy="433.4" r="6.2" fill="url(#pg)" stroke="#7d45bd" stroke-width="0.8"/>
<circle cx="643.3" cy="433.6" r="3.2" fill="url(#ng)"/>
<circle cx="523.3" cy="441.4" r="6.2" fill="url(#pg)" stroke="#7d45bd" stroke-width="0.8"/>
<circle cx="523.7" cy="441.6" r="3.2" fill="url(#ng)"/>
<circle cx="546.9" cy="442.0" r="6.2" fill="url(#pg)" stroke="#7d45bd" stroke-width="0.8"/>
<circle cx="547.3" cy="442.2" r="3.2" fill="url(#ng)"/>
<path d="M587.3 431.8A5.2 5.2 0 1 1 591.7 441.0" fill="none" stroke="#6a6a6a" stroke-width="0.8"/>
<path d="M589.5 429.7L587.3 431.8L589.9 433.1" fill="none" stroke="#6a6a6a" stroke-width="0.8"/>
<circle cx="583.1" cy="439.1" r="6.2" fill="url(#pg)" stroke="#7d45bd" stroke-width="0.8"/>
<circle cx="583.5" cy="439.3" r="3.2" fill="url(#ng)"/>
<circle cx="601.0" cy="447.7" r="6.2" fill="url(#pg)" stroke="#7d45bd" stroke-width="0.8"/>
<circle cx="601.4" cy="447.9" r="3.2" fill="url(#ng)"/>
<circle cx="625.8" cy="446.8" r="6.2" fill="url(#pg)" stroke="#7d45bd" stroke-width="0.8"/>
<circle cx="626.2" cy="447.0" r="3.2" fill="url(#ng)"/>
<circle cx="532.1" cy="455.6" r="6.2" fill="url(#pg)" stroke="#7d45bd" stroke-width="0.8"/>
<circle cx="532.5" cy="455.8" r="3.2" fill="url(#ng)"/>
<circle cx="568.8" cy="452.8" r="6.2" fill="url(#pg)" stroke="#7d45bd" stroke-width="0.8"/>
<circle cx="569.2" cy="453.0" r="3.2" fill="url(#ng)"/>
<text x="343.2" y="442.9" font-size="8.4" fill="#9c5fcc" font-weight="bold" font-style="italic" textLength="33.2" lengthAdjust="spacingAndGlyphs" >Piwi1<tspan font-size="5.2" dy="-3.0">high</tspan></text>
<text x="469.2" y="424.3" font-size="8.4" fill="#9c5fcc" font-weight="bold" font-style="italic" textLength="33.2" lengthAdjust="spacingAndGlyphs" >Piwi1<tspan font-size="5.2" dy="-3.0">high</tspan></text>
<text x="343.2" y="476.4" font-size="8.4" fill="#9c5fcc" font-weight="bold" font-style="italic" textLength="30.8" lengthAdjust="spacingAndGlyphs" >Piwi1<tspan font-size="5.2" dy="-3.0">low</tspan></text>
<text x="470.5" y="478.2" font-size="8.4" fill="#9c5fcc" font-weight="bold" font-style="italic" textLength="30.8" lengthAdjust="spacingAndGlyphs" >Piwi1<tspan font-size="5.2" dy="-3.0">low</tspan></text>
<text x="398.8" y="440.2" font-size="8.2" fill="#000" font-weight="bold" textLength="45.2" lengthAdjust="spacingAndGlyphs" >Progenitors</text>
<text x="399.6" y="462.5" font-size="8.2" fill="#1a8a7a" font-weight="bold" font-style="italic" textLength="18.9" lengthAdjust="spacingAndGlyphs" >SoxC</text>
<text x="589.0" y="469.0" font-size="8.2" fill="#1a8a7a" font-weight="bold" font-style="italic" textLength="18.8" lengthAdjust="spacingAndGlyphs" >SoxC</text>
<text x="616.4" y="464.3" font-size="7.4" fill="#1a8a7a" font-weight="bold" font-style="italic" textLength="16.7" lengthAdjust="spacingAndGlyphs" transform="rotate(90 616.4 464.3)" >SoxC</text>
<path d="M348.5 517.5C347 524 346 532 347.2 536.5C348 540 350 541.5 351.5 537M358.5 536C360 538.5 361.5 539.5 362.8 538C365 535 366.8 531.3 366.3 527C366 522 365.4 518 363.5 514C362.5 512 361.5 510.5 361 509.6M366.3 530C375 528.5 382 526.8 388.6 525.4C398 523.5 408 522 415.5 520.5M365 516.8C366 520.5 367.5 523 369.5 524.7C372.5 527 375 529.5 376.8 533M379.5 542C381 545 384 546 387 546.5C391 547 394.5 550 397 553M340.6 552.3C348 550.6 356 548.8 363 547.3C372 545.5 381 543.5 389 541.8M355.7 543C362 541.8 368 540 371.5 538C374 536.5 376 537 378 538M355.7 543.6C380 541 406 537.5 428 534.6M401 521.4C400.3 528 400 535 400.4 540.5C400.8 544 402.6 545.2 404.2 542.5M412.5 539.5C414.5 541.8 416 540 417.5 537C419.5 533 420.5 527 419.3 522C418.5 519 417.5 516 416.2 514M401 555.6C409 551.5 418 547 428 543M418 536.5C425 535 431 533.5 437.7 531.9C443 530.7 448 530.8 453.2 531.3C462 528.5 474 525.5 484.4 522.7C492 521 500 519.3 508 517.5M439 510.3C440.5 514 442 516.5 444.3 518C447.5 520.5 450.5 524 452.6 528.5M454.2 535.5C455 538 456 539.6 458 540.4C462 541.8 466 542.4 468.5 544C471 546 472.5 548.6 474.5 548.6C476.5 548.4 477 546 478 544.5M471.9 526C471.5 532 471.2 538 471.2 544.4M466.6 533.3C475 533 484 532.8 491.6 532.6M488.6 524.7C489.8 530 491 537 491 543C490.6 546.5 488.5 548.4 486.3 548.4C484.5 548 483.5 546 482.8 544.6M494.2 533.3C499 538 503.5 543 508 548.4M494.2 533.3C498 529 502 524 504.7 519.5M425.2 515.5C426 521 427.2 527 427.9 532.6C428 536 426.5 539 424.5 540.5M430.5 536.5C435 535.8 439 535.3 442.5 534.5M429.8 543C437 546 444.5 550 450.9 554.3M494.2 533.3C497 531.8 502 531 508 530.4" fill="none" stroke="#1d4f9f" stroke-width="0.95" stroke-linecap="round"/>
<ellipse cx="354.8" cy="534.2" rx="4" ry="3" fill="#2b86e6" stroke="#1d4f9f" stroke-width="0.5" transform="rotate(15 354.8 534.2)"/>
<circle cx="354.3" cy="534.6" r="1" fill="#9fb4d8"/>
<ellipse cx="388.6" cy="525.4" rx="5.2" ry="3" fill="#2b86e6" stroke="#1d4f9f" stroke-width="0.5" transform="rotate(-12 388.6 525.4)"/>
<circle cx="388.1" cy="525.8" r="1" fill="#9fb4d8"/>
<ellipse cx="378.1" cy="537.9" rx="3" ry="4.2" fill="#2b86e6" stroke="#1d4f9f" stroke-width="0.5" transform="rotate(-10 378.1 537.9)"/>
<circle cx="377.6" cy="538.3" r="1" fill="#9fb4d8"/>
<ellipse cx="363" cy="547.3" rx="5" ry="3" fill="#2b86e6" stroke="#1d4f9f" stroke-width="0.5" transform="rotate(-12 363 547.3)"/>
<circle cx="362.5" cy="547.6999999999999" r="1" fill="#9fb4d8"/>
<ellipse cx="408.3" cy="537.9" rx="4" ry="3.3" fill="#2b86e6" stroke="#1d4f9f" stroke-width="0.5" transform="rotate(10 408.3 537.9)"/>
<circle cx="407.8" cy="538.3" r="1" fill="#9fb4d8"/>
<ellipse cx="424" cy="541" rx="2.8" ry="3.2" fill="#2b86e6" stroke="#1d4f9f" stroke-width="0.5" transform="rotate(0 424 541)"/>
<circle cx="423.5" cy="541.4" r="1" fill="#9fb4d8"/>
<ellipse cx="437.7" cy="531.9" rx="4.8" ry="3" fill="#2b86e6" stroke="#1d4f9f" stroke-width="0.5" transform="rotate(-12 437.7 531.9)"/>
<circle cx="437.2" cy="532.3" r="1" fill="#9fb4d8"/>
<ellipse cx="453.2" cy="531.9" rx="2.7" ry="3.8" fill="#2b86e6" stroke="#1d4f9f" stroke-width="0.5" transform="rotate(0 453.2 531.9)"/>
<circle cx="452.7" cy="532.3" r="1" fill="#9fb4d8"/>
<ellipse cx="484.4" cy="522.7" rx="4.8" ry="3" fill="#2b86e6" stroke="#1d4f9f" stroke-width="0.5" transform="rotate(-12 484.4 522.7)"/>
<circle cx="483.9" cy="523.1" r="1" fill="#9fb4d8"/>
<ellipse cx="494.2" cy="533.3" rx="2.8" ry="2.6" fill="#2b86e6" stroke="#1d4f9f" stroke-width="0.5" transform="rotate(0 494.2 533.3)"/>
<circle cx="493.7" cy="533.6999999999999" r="1" fill="#9fb4d8"/>
<ellipse cx="479.5" cy="543.4" rx="3.6" ry="3" fill="#2b86e6" stroke="#1d4f9f" stroke-width="0.5" transform="rotate(0 479.5 543.4)"/>
<circle cx="479.0" cy="543.8" r="1" fill="#9fb4d8"/>
<text x="354.2" y="562.8" font-size="8.6" fill="#000" font-weight="bold" textLength="139.2" lengthAdjust="spacingAndGlyphs" >Peptidergic neurons – Neural <tspan fill="#8f8ff0">0</tspan>/<tspan fill="#2e8af0">1</tspan>/<tspan fill="#1a6a8a">2</tspan></text>
<text x="442.2" y="573.3" font-size="6.8" fill="#222" font-style="italic" textLength="56.5" lengthAdjust="spacingAndGlyphs" >(except neural 22)</text>
<text x="347.0" y="578.0" font-size="8.2" fill="#c89a1a" font-weight="bold" font-style="italic" textLength="78.0" lengthAdjust="spacingAndGlyphs" >Prdm14d&gt;GFP<tspan font-size="5" dy="-3">+</tspan><tspan dy="3"> cells</tspan></text>
<text x="337.9" y="593.0" font-size="9.4" fill="#2a3aa0" font-weight="bold" font-style="italic" textLength="75.9" lengthAdjust="spacingAndGlyphs" >Elav&gt;KikGR+ cells</text>
<path d="M466.6 591.1Q461.5 586.4 455.0 584.6M466.6 591.1Q473.4 588.6 477.3 582.2M466.6 591.1Q463.6 596.2 457.9 600.3M466.6 591.1Q472.6 596.6 480.2 595.1" fill="none" stroke="#2b3350" stroke-width="0.6"/>
<circle cx="466.6" cy="591.1" r="1.6" fill="#000"/>
<text x="477.3" y="591.9" font-size="5.6" fill="#111" font-weight="bold" textLength="25.5" lengthAdjust="spacingAndGlyphs" >Neural 22</text>
<rect x="516" y="511.2" width="8.7" height="24.4" rx="4.4" ry="5.4" fill="#f3ac7e" stroke="#d0683a" stroke-width="0.9" transform="rotate(-5 520.4 523.4)"/>
<circle cx="520.4" cy="519.1" r="2" fill="#c9c9c9"/><circle cx="520.1" cy="518.8" r="1" fill="#f2f2f2"/>
<rect x="529.3" y="520.1" width="8.5" height="24.4" rx="4.2" ry="5.3" fill="#f3ac7e" stroke="#d0683a" stroke-width="0.9" transform="rotate(-4 533.5 532.3)"/>
<circle cx="533.5" cy="528.0" r="2" fill="#c9c9c9"/><circle cx="533.2" cy="527.7" r="1" fill="#f2f2f2"/>
<rect x="545.6" y="510" width="10.6" height="24.8" rx="5.3" ry="6.6" fill="#f3ac7e" stroke="#d0683a" stroke-width="0.9" transform="rotate(-5 550.9 522.4)"/>
<circle cx="550.9" cy="517.9" r="2" fill="#c9c9c9"/><circle cx="550.6" cy="517.6" r="1" fill="#f2f2f2"/>
<rect x="565.1" y="520.1" width="9.4" height="25.7" rx="4.7" ry="5.8" fill="#f3ac7e" stroke="#d0683a" stroke-width="0.9" transform="rotate(-4 569.8 533.0)"/>
<circle cx="569.8" cy="528.0" r="2" fill="#c9c9c9"/><circle cx="569.5" cy="527.7" r="1" fill="#f2f2f2"/>
<text x="516.2" y="562.6" font-size="8.6" fill="#000" font-weight="bold" textLength="56.9" lengthAdjust="spacingAndGlyphs" >Secretory cells</text>
<text x="516.2" y="573.1" font-size="6.8" fill="#222" font-style="italic" textLength="56.9" lengthAdjust="spacingAndGlyphs" >(except cluster 12)</text>
<path d="M596.5 471.5c3.5-1.2 7.5-0.2 8.5 2.6c1 3-1 7.2-4.4 9.6c-3.2 2.2-7.6 2.4-9.4-0.2c-1.6-2.4-0.8-6.2 1.2-8.8c1.2-1.6 2.4-2.6 4.1-3.2z" fill="#f4d6f2" stroke="#cf5fd0" stroke-width="1.5" stroke-linejoin="round"/>
<path d="M594.5 476c2.4-2 6.2-2 7.2 0.2c0.8 2-1 4.4-3.4 5.2c-1.8 0.6-3.4-0.2-3.4-1.8" fill="none" stroke="#e8a8e6" stroke-width="1.1"/><circle cx="596.4" cy="478.6" r="1.5" fill="#b4b4b4"/>
<path d="M597.9 492.3L597.9 531.2M593.1 525.8L597.9 531.2L602.7 525.8" fill="none" stroke="#858585" stroke-width="1.7" stroke-linejoin="miter"/>
<path d="M597.9 537.1c-3 4-4.4 8.6-3.8 13c0.4 3 0 5.6-2.6 8.6c2.6-0.4 4.8-1.6 6.4-3.8c1.6 2.2 3.8 3.4 6.4 3.8c-2.6-3-3-5.6-2.6-8.6c0.6-4.4-0.8-9-3.8-13z" fill="#dff3e3" stroke="#2e9a50" stroke-width="0.9" stroke-linejoin="round"/>
<path d="M597.9 540.5c-2 3.6-2.2 8-0.8 12.4c1.8-0.4 2.4-1.2 2.6-2.6" fill="#f2f2f2" stroke="#2e9a50" stroke-width="0.6"/><circle cx="599.4" cy="549.6" r="1" fill="#aaa"/>
<text x="585.9" y="573.1" font-size="8.8" fill="#000" font-weight="bold" textLength="42.7" lengthAdjust="spacingAndGlyphs" >Cnidocytes</text>
<path d="M651.7 463.6A5.6 5.6 0 1 1 654.6 474.4" fill="none" stroke="#6a6a6a" stroke-width="0.9"/><path d="M654.2 461.6L651.5 463.7L654.3 465.8" fill="none" stroke="#6a6a6a" stroke-width="0.9"/>
<rect x="642.6" y="467.4" width="11" height="20.6" rx="2.6" fill="#a4edfa" stroke="#3fd0ee" stroke-width="0.9" transform="rotate(-4 648.1 477.7)"/>
<rect x="645" y="470" width="5.6" height="9" rx="2" fill="#c4f4fc"/>
<circle cx="648.4" cy="482.3" r="1.8" fill="#9a9a9a"/>
<text x="653.5" y="480.6" font-size="6.2" fill="#111" font-weight="bold" font-style="italic" textLength="25.1" lengthAdjust="spacingAndGlyphs" >Piwi1<tspan font-size="3.8" dy="-2.2">low</tspan></text>
<text x="638.2" y="497.5" font-size="7.6" fill="#000" font-weight="bold" textLength="34.6" lengthAdjust="spacingAndGlyphs" >Epidermis</text>
<text x="630.5" y="507.3" font-size="7.6" fill="#000" font-weight="bold" textLength="49.5" lengthAdjust="spacingAndGlyphs" >epithelial cells</text>
<path d="M637.8 511.5c-0.4 5-3 9.6-4.2 14.4c-1 4 0 7.6 2 8.6c2 0.8 3.8-1.6 4.2-5.6c0.6-6-1-11.4-2-17.4z" fill="#a21ab4" stroke="#8c12a0" stroke-width="0.4"/>
<path d="M636.6 516c-1 4-2.6 7-3.2 10.4c-0.4 2.6 0 5 1 6.4" fill="none" stroke="#d060d8" stroke-width="0.9"/>
<path d="M635 534.4c-2.6 3-6 4.4-9.6 6c-2.8 1.2-5 2.2-7 3.6M638 533.6c4-1 7.6-2.6 10-5.2c1-1.2 1.6-2.2 2-3M636 534.6c0.2 1.8 0 3.2-0.6 4.8" fill="none" stroke="#b030c0" stroke-width="0.8"/><circle cx="634.9" cy="530.2" r="1.1" fill="#ead2f0"/>
<text x="621.6" y="549.6" font-size="6.6" fill="#111" font-weight="bold" font-style="italic" textLength="26.5" lengthAdjust="spacingAndGlyphs" >FoxQ2d<tspan font-size="4" dy="-2.4">+</tspan></text>
<text x="615.0" y="559.0" font-size="7" fill="#111" font-weight="bold" textLength="40.0" lengthAdjust="spacingAndGlyphs" >sensory cells</text>
<path d="M663.4 517.6c3-0.8 6 1 6.6 5c0.6 5 0.2 10.4-1 14.4c-0.8 2.4-3.4 3.2-5.4 2c-2-1.4-2.6-5-2.6-9.4c0-4.6 0.4-10.6 2.4-12z" fill="#f2702e" stroke="#e45a1c" stroke-width="0.6"/>
<path d="M663 528l4.4 0.6M662.8 531l4.8 0.6M663 534l4.4 0.6M663.6 537l3.2 0.4M664 521l3 0.4" stroke="#f9b088" stroke-width="0.5" stroke-dasharray="0.8 0.8"/><ellipse cx="665.7" cy="524" rx="1.5" ry="1.7" fill="#cfcfcf"/>
<text x="653.8" y="548.5" font-size="7" fill="#111" font-weight="bold" textLength="25.2" lengthAdjust="spacingAndGlyphs" >Mucous</text>
<text x="659.7" y="557.5" font-size="7" fill="#111" font-weight="bold" textLength="13.5" lengthAdjust="spacingAndGlyphs" >cells</text>
<text x="597.6" y="594.5" font-size="8" fill="#3a8a3a" font-weight="bold" font-style="italic" textLength="72.6" lengthAdjust="spacingAndGlyphs" >FoxL2&gt;KikGR<tspan font-size="4.8" dy="-3">+</tspan><tspan dy="3"> cells</tspan></text>
</g>
</svg></body></html>
